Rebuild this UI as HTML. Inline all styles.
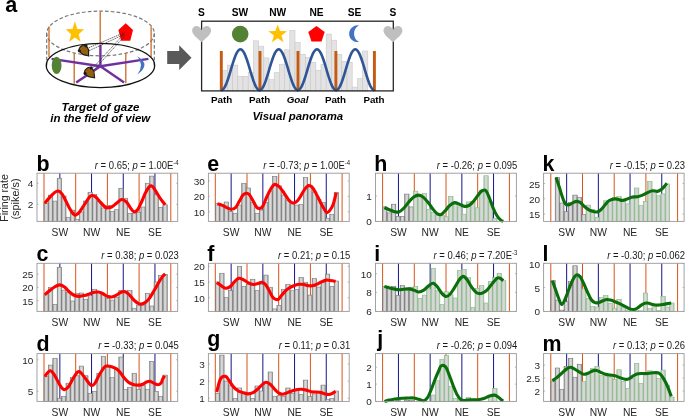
<!DOCTYPE html>
<html><head><meta charset="utf-8"><style>
html,body{margin:0;padding:0;background:#fff;}
svg{display:block;will-change:transform;}
text{font-family:"Liberation Sans", sans-serif;}
</style></head><body>
<svg width="685" height="416" viewBox="0 0 685 416">
<defs>
<linearGradient id="bg" x1="0" y1="0" x2="1" y2="0">
<stop offset="0" stop-color="#8c8c8c"/><stop offset="0.28" stop-color="#cdcdcd"/><stop offset="0.5" stop-color="#dcdcdc"/><stop offset="0.72" stop-color="#cdcdcd"/><stop offset="1" stop-color="#8c8c8c"/>
</linearGradient>
<linearGradient id="gg" x1="0" y1="0" x2="1" y2="0">
<stop offset="0" stop-color="#9cc49c"/><stop offset="0.28" stop-color="#d2d4d2"/><stop offset="0.5" stop-color="#dadada"/><stop offset="0.72" stop-color="#d2d4d2"/><stop offset="1" stop-color="#9cc49c"/>
</linearGradient>
</defs>
<rect width="685" height="416" fill="#fff"/>
<text x="5.2" y="11.6" font-size="21.6" font-weight="bold">a</text>
<ellipse cx="100.5" cy="33.45" rx="53.8" ry="22.35" fill="none" stroke="#777" stroke-width="1.2" stroke-dasharray="3.6 2.2"/>
<line x1="46.7" y1="33.45" x2="46.7" y2="66" stroke="#777" stroke-width="1.2" stroke-dasharray="3.6 2.2"/>
<line x1="154.3" y1="33.45" x2="154.3" y2="66" stroke="#777" stroke-width="1.2" stroke-dasharray="3.6 2.2"/>
<line x1="49" y1="26.6" x2="49" y2="57" stroke="#c8641e" stroke-width="1.25"/>
<line x1="100.2" y1="11.5" x2="100.2" y2="42.5" stroke="#c8641e" stroke-width="1.25"/>
<line x1="151.1" y1="26.6" x2="151.1" y2="57" stroke="#c8641e" stroke-width="1.25"/>
<line x1="74.2" y1="53.1" x2="74.2" y2="83.8" stroke="#c8641e" stroke-width="1.25"/>
<line x1="125.8" y1="53.1" x2="125.8" y2="83.3" stroke="#c8641e" stroke-width="1.25"/>
<polygon points="74.9,23.1 77.25,29.46 84.03,29.73 78.7,33.94 80.54,40.47 74.9,36.7 69.26,40.47 71.1,33.94 65.77,29.73 72.55,29.46" fill="#ffc000" transform="translate(74.9 32.7) scale(1 1.18) translate(-74.9 -32.7)"/>
<polygon points="125.7,25.2 133.02,30.52 130.23,39.13 121.17,39.13 118.38,30.52" fill="#ff0000" transform="translate(125.7 32.9) scale(1 1.25) translate(-125.7 -32.9)"/>
<ellipse cx="100.45" cy="65.45" rx="54.2" ry="22.1" fill="none" stroke="#111" stroke-width="1.3"/>
<line x1="100.4" y1="66.2" x2="51.6" y2="58.9" stroke="#7030a0" stroke-width="2.4" stroke-linecap="butt"/>
<line x1="100.4" y1="66.2" x2="76.2" y2="82.4" stroke="#7030a0" stroke-width="2.4" stroke-linecap="butt"/>
<line x1="100.4" y1="66.2" x2="100.4" y2="44.6" stroke="#7030a0" stroke-width="2.4" stroke-linecap="butt"/>
<line x1="100.4" y1="66.2" x2="124.1" y2="82.4" stroke="#7030a0" stroke-width="2.4" stroke-linecap="butt"/>
<line x1="100.4" y1="66.2" x2="148.4" y2="58.9" stroke="#7030a0" stroke-width="2.4" stroke-linecap="butt"/>
<ellipse cx="56.6" cy="65.4" rx="4.9" ry="8.7" fill="#548235"/>
<path d="M137.3 56.3 Q151.5 64.5 137.4 74.4 Q144.6 64.5 137.3 56.3Z" fill="#4472c4"/>
<line x1="87" y1="48.5" x2="124.5" y2="32.5" stroke="#222" stroke-width="0.7" stroke-dasharray="1.4 0.7"/>
<line x1="88.5" y1="51" x2="125" y2="34" stroke="#222" stroke-width="0.7" stroke-dasharray="1.4 0.7"/>
<line x1="91" y1="70" x2="123.5" y2="34.5" stroke="#222" stroke-width="0.7" stroke-dasharray="1.4 0.7"/>
<line x1="93" y1="71" x2="125" y2="35.5" stroke="#222" stroke-width="0.7" stroke-dasharray="1.4 0.7"/>
<g transform="translate(84.6 50.8) rotate(52) scale(1.22)"><path d="M-4.6 -1.2 C-4.2 -4.2 1.2 -4.2 3.2 -1.6 L5.4 0 L3.2 1.6 C1.2 4.2 -4.2 4.2 -4.6 1.2 Z" fill="#94600e" stroke="#1a1a1a" stroke-width="0.9"/><circle cx="-2.6" cy="-3.4" r="1.3" fill="#1a1a1a"/><circle cx="-2.6" cy="3.4" r="1.3" fill="#1a1a1a"/></g>
<g transform="translate(90.2 73) rotate(48) scale(1.22)"><path d="M-4.6 -1.2 C-4.2 -4.2 1.2 -4.2 3.2 -1.6 L5.4 0 L3.2 1.6 C1.2 4.2 -4.2 4.2 -4.6 1.2 Z" fill="#94600e" stroke="#1a1a1a" stroke-width="0.9"/><circle cx="-2.6" cy="-3.4" r="1.3" fill="#1a1a1a"/><circle cx="-2.6" cy="3.4" r="1.3" fill="#1a1a1a"/></g>
<text x="100.5" y="110.6" text-anchor="middle" font-size="10.8" font-weight="bold" font-style="italic" textLength="78" lengthAdjust="spacingAndGlyphs">Target of gaze</text>
<text x="100.3" y="122.4" text-anchor="middle" font-size="10.8" font-weight="bold" font-style="italic" textLength="100" lengthAdjust="spacingAndGlyphs">in the field of view</text>
<polygon points="167.2,51 179.2,51 179.2,45.3 191.5,57.7 179.2,70 179.2,64 167.2,64" fill="#595959"/>
<rect x="222.2" y="70.5" width="5.2" height="20.4" fill="#e3e3e3" stroke="#c9c9c9" stroke-width="0.6"/>
<rect x="227.4" y="65.1" width="5.2" height="25.8" fill="#e3e3e3" stroke="#c9c9c9" stroke-width="0.6"/>
<rect x="232.6" y="65.1" width="5.2" height="25.8" fill="#e3e3e3" stroke="#c9c9c9" stroke-width="0.6"/>
<rect x="237.8" y="76.3" width="5.2" height="14.6" fill="#e3e3e3" stroke="#c9c9c9" stroke-width="0.6"/>
<rect x="243" y="76.3" width="5.2" height="14.6" fill="#e3e3e3" stroke="#c9c9c9" stroke-width="0.6"/>
<rect x="248.2" y="72.3" width="5.2" height="18.6" fill="#e3e3e3" stroke="#c9c9c9" stroke-width="0.6"/>
<rect x="253.4" y="40.8" width="5.2" height="50.1" fill="#e3e3e3" stroke="#c9c9c9" stroke-width="0.6"/>
<rect x="258.6" y="46.2" width="5.2" height="44.7" fill="#e3e3e3" stroke="#c9c9c9" stroke-width="0.6"/>
<rect x="263.8" y="57.9" width="5.2" height="33" fill="#e3e3e3" stroke="#c9c9c9" stroke-width="0.6"/>
<rect x="269" y="79.6" width="5.2" height="11.3" fill="#e3e3e3" stroke="#c9c9c9" stroke-width="0.6"/>
<rect x="274.2" y="72.7" width="5.2" height="18.2" fill="#e3e3e3" stroke="#c9c9c9" stroke-width="0.6"/>
<rect x="279.4" y="64.2" width="5.2" height="26.7" fill="#e3e3e3" stroke="#c9c9c9" stroke-width="0.6"/>
<rect x="284.6" y="49.8" width="5.2" height="41.1" fill="#e3e3e3" stroke="#c9c9c9" stroke-width="0.6"/>
<rect x="289.8" y="30.3" width="5.2" height="60.6" fill="#e3e3e3" stroke="#c9c9c9" stroke-width="0.6"/>
<rect x="295" y="42.6" width="5.2" height="48.3" fill="#e3e3e3" stroke="#c9c9c9" stroke-width="0.6"/>
<rect x="300.2" y="54.3" width="5.2" height="36.6" fill="#e3e3e3" stroke="#c9c9c9" stroke-width="0.6"/>
<rect x="305.4" y="57.4" width="5.2" height="33.5" fill="#e3e3e3" stroke="#c9c9c9" stroke-width="0.6"/>
<rect x="310.6" y="62.4" width="5.2" height="28.5" fill="#e3e3e3" stroke="#c9c9c9" stroke-width="0.6"/>
<rect x="315.8" y="70.2" width="5.2" height="20.7" fill="#e3e3e3" stroke="#c9c9c9" stroke-width="0.6"/>
<rect x="321" y="64.2" width="5.2" height="26.7" fill="#e3e3e3" stroke="#c9c9c9" stroke-width="0.6"/>
<rect x="326.2" y="34.1" width="5.2" height="56.8" fill="#e3e3e3" stroke="#c9c9c9" stroke-width="0.6"/>
<rect x="331.4" y="40.2" width="5.2" height="50.7" fill="#e3e3e3" stroke="#c9c9c9" stroke-width="0.6"/>
<rect x="336.6" y="54.3" width="5.2" height="36.6" fill="#e3e3e3" stroke="#c9c9c9" stroke-width="0.6"/>
<rect x="341.8" y="61.5" width="5.2" height="29.4" fill="#e3e3e3" stroke="#c9c9c9" stroke-width="0.6"/>
<rect x="347" y="62.4" width="5.2" height="28.5" fill="#e3e3e3" stroke="#c9c9c9" stroke-width="0.6"/>
<rect x="352.2" y="87.1" width="5.2" height="3.8" fill="#e3e3e3" stroke="#c9c9c9" stroke-width="0.6"/>
<rect x="357.4" y="78.7" width="5.2" height="12.2" fill="#e3e3e3" stroke="#c9c9c9" stroke-width="0.6"/>
<rect x="362.6" y="51" width="5.2" height="39.9" fill="#e3e3e3" stroke="#c9c9c9" stroke-width="0.6"/>
<rect x="219.85" y="51" width="2.9" height="39.9" fill="#c55a11"/>
<rect x="258.55" y="51" width="2.9" height="39.9" fill="#c55a11"/>
<rect x="296.55" y="51" width="2.9" height="39.9" fill="#c55a11"/>
<rect x="334.45" y="51" width="2.9" height="39.9" fill="#c55a11"/>
<rect x="372.95" y="51" width="2.9" height="39.9" fill="#c55a11"/>
<polyline points="221.3,90.2 222.07,90.04 222.83,89.56 223.6,88.76 224.36,87.67 225.13,86.29 225.89,84.66 226.66,82.79 227.42,80.71 228.19,78.46 228.96,76.07 229.72,73.58 230.49,71.03 231.25,68.47 232.02,65.92 232.78,63.43 233.55,61.04 234.31,58.79 235.08,56.71 235.84,54.84 236.61,53.21 237.38,51.83 238.14,50.74 238.91,49.94 239.67,49.46 240.44,49.3 241.2,49.46 241.97,49.94 242.73,50.74 243.5,51.83 244.27,53.21 245.03,54.84 245.8,56.71 246.56,58.79 247.33,61.04 248.09,63.43 248.86,65.92 249.62,68.47 250.39,71.03 251.15,73.58 251.92,76.07 252.69,78.46 253.45,80.71 254.22,82.79 254.98,84.66 255.75,86.29 256.51,87.67 257.28,88.76 258.04,89.56 258.81,90.04 259.57,90.2 260.34,90.04 261.11,89.56 261.87,88.76 262.64,87.67 263.4,86.29 264.17,84.66 264.93,82.79 265.7,80.71 266.46,78.46 267.23,76.07 268,73.58 268.76,71.03 269.53,68.47 270.29,65.92 271.06,63.43 271.82,61.04 272.59,58.79 273.35,56.71 274.12,54.84 274.88,53.21 275.65,51.83 276.42,50.74 277.18,49.94 277.95,49.46 278.71,49.3 279.48,49.46 280.24,49.94 281.01,50.74 281.77,51.83 282.54,53.21 283.31,54.84 284.07,56.71 284.84,58.79 285.6,61.04 286.37,63.43 287.13,65.92 287.9,68.47 288.66,71.03 289.43,73.58 290.19,76.07 290.96,78.46 291.73,80.71 292.49,82.79 293.26,84.66 294.02,86.29 294.79,87.67 295.55,88.76 296.32,89.56 297.08,90.04 297.85,90.2 298.62,90.04 299.38,89.56 300.15,88.76 300.91,87.67 301.68,86.29 302.44,84.66 303.21,82.79 303.97,80.71 304.74,78.46 305.5,76.07 306.27,73.58 307.04,71.03 307.8,68.47 308.57,65.92 309.33,63.43 310.1,61.04 310.86,58.79 311.63,56.71 312.39,54.84 313.16,53.21 313.93,51.83 314.69,50.74 315.46,49.94 316.22,49.46 316.99,49.3 317.75,49.46 318.52,49.94 319.28,50.74 320.05,51.83 320.81,53.21 321.58,54.84 322.35,56.71 323.11,58.79 323.88,61.04 324.64,63.43 325.41,65.92 326.17,68.47 326.94,71.03 327.7,73.58 328.47,76.07 329.24,78.46 330,80.71 330.77,82.79 331.53,84.66 332.3,86.29 333.06,87.67 333.83,88.76 334.59,89.56 335.36,90.04 336.12,90.2 336.89,90.04 337.66,89.56 338.42,88.76 339.19,87.67 339.95,86.29 340.72,84.66 341.48,82.79 342.25,80.71 343.01,78.46 343.78,76.07 344.55,73.58 345.31,71.03 346.08,68.47 346.84,65.92 347.61,63.43 348.37,61.04 349.14,58.79 349.9,56.71 350.67,54.84 351.43,53.21 352.2,51.83 352.97,50.74 353.73,49.94 354.5,49.46 355.26,49.3 356.03,49.46 356.79,49.94 357.56,50.74 358.32,51.83 359.09,53.21 359.86,54.84 360.62,56.71 361.39,58.79 362.15,61.04 362.92,63.43 363.68,65.92 364.45,68.47 365.21,71.03 365.98,73.58 366.75,76.07 367.51,78.46 368.28,80.71 369.04,82.79 369.81,84.66 370.57,86.29 371.34,87.67 372.1,88.76 372.87,89.56 373.63,90.04 374.4,90.2" fill="none" stroke="#2f5597" stroke-width="2.6"/>
<rect x="201.6" y="21.2" width="191.7" height="69.7" fill="none" stroke="#262626" stroke-width="1.3"/>
<path d="M201.6 29.9 C200.1 26.6 198 25.9 196.6 25.9 C193.8 25.9 192.1 28 192.1 30.6 C192.1 34.8 197.4 38.2 201.6 42.3 C205.8 38.2 211.1 34.8 211.1 30.6 C211.1 28 209.4 25.9 206.6 25.9 C205.2 25.9 203.1 26.6 201.6 29.9 Z" fill="#bfbfbf"/>
<path d="M392.95 29.9 C391.45 26.6 389.35 25.9 387.95 25.9 C385.15 25.9 383.45 28 383.45 30.6 C383.45 34.8 388.75 38.2 392.95 42.3 C397.15 38.2 402.45 34.8 402.45 30.6 C402.45 28 400.75 25.9 397.95 25.9 C396.55 25.9 394.45 26.6 392.95 29.9 Z" fill="#bfbfbf"/>
<circle cx="240.2" cy="34.1" r="8.3" fill="#548235"/>
<polygon points="277.7,24.5 280.05,31.06 287.02,31.27 281.5,35.54 283.46,42.23 277.7,38.3 271.94,42.23 273.9,35.54 268.38,31.27 275.35,31.06" fill="#ffc000"/>
<polygon points="316.5,26 324.68,31.94 321.55,41.56 311.45,41.56 308.32,31.94" fill="#ff0000"/>
<path d="M358.9 25.5 A8.35 8.35 0 1 0 359.2 41.9 A9.22 9.22 0 0 1 358.9 25.5Z" fill="#4472c4"/>
<text x="201.5" y="16.3" text-anchor="middle" font-size="10.2" font-weight="bold">S</text>
<text x="240" y="16.3" text-anchor="middle" font-size="10.2" font-weight="bold">SW</text>
<text x="277.7" y="16.3" text-anchor="middle" font-size="10.2" font-weight="bold">NW</text>
<text x="316.5" y="16.3" text-anchor="middle" font-size="10.2" font-weight="bold">NE</text>
<text x="354.5" y="16.3" text-anchor="middle" font-size="10.2" font-weight="bold">SE</text>
<text x="393" y="16.3" text-anchor="middle" font-size="10.2" font-weight="bold">S</text>
<text x="221.6" y="103.0" text-anchor="middle" font-size="9.8" font-weight="bold">Path</text>
<text x="259.6" y="103.0" text-anchor="middle" font-size="9.8" font-weight="bold">Path</text>
<text x="297.6" y="103.0" text-anchor="middle" font-size="9.8" font-weight="bold" font-style="italic">Goal</text>
<text x="335.5" y="103.0" text-anchor="middle" font-size="9.8" font-weight="bold">Path</text>
<text x="374" y="103.0" text-anchor="middle" font-size="9.8" font-weight="bold">Path</text>
<text x="297.8" y="120.0" text-anchor="middle" font-size="11.4" font-weight="bold" font-style="italic">Visual panorama</text>
<line x1="44" y1="173.2" x2="44" y2="221.4" stroke="#d95319" stroke-width="1.0"/>
<line x1="75.7" y1="173.2" x2="75.7" y2="221.4" stroke="#d95319" stroke-width="1.0"/>
<line x1="107.4" y1="173.2" x2="107.4" y2="221.4" stroke="#d95319" stroke-width="1.0"/>
<line x1="139.1" y1="173.2" x2="139.1" y2="221.4" stroke="#d95319" stroke-width="1.0"/>
<line x1="170.8" y1="173.2" x2="170.8" y2="221.4" stroke="#d95319" stroke-width="1.0"/>
<line x1="59.85" y1="173.2" x2="59.85" y2="221.4" stroke="#14148a" stroke-width="1.0"/>
<line x1="91.55" y1="173.2" x2="91.55" y2="221.4" stroke="#14148a" stroke-width="1.0"/>
<line x1="123.25" y1="173.2" x2="123.25" y2="221.4" stroke="#14148a" stroke-width="1.0"/>
<line x1="154.95" y1="173.2" x2="154.95" y2="221.4" stroke="#14148a" stroke-width="1.0"/>
<rect x="44" y="203.5" width="4.4" height="17.9" fill="url(#bg)" stroke="#777777" stroke-width="0.6"/>
<rect x="48.4" y="195.1" width="4.4" height="26.3" fill="url(#bg)" stroke="#777777" stroke-width="0.6"/>
<rect x="52.81" y="201.1" width="4.4" height="20.3" fill="url(#bg)" stroke="#777777" stroke-width="0.6"/>
<rect x="57.21" y="178.25" width="4.4" height="43.15" fill="url(#bg)" stroke="#777777" stroke-width="0.6"/>
<rect x="61.61" y="196" width="4.4" height="25.4" fill="url(#bg)" stroke="#777777" stroke-width="0.6"/>
<rect x="66.01" y="217.25" width="4.4" height="4.15" fill="url(#bg)" stroke="#777777" stroke-width="0.6"/>
<rect x="70.42" y="210.1" width="4.4" height="11.3" fill="url(#bg)" stroke="#777777" stroke-width="0.6"/>
<rect x="74.82" y="219.25" width="4.4" height="2.15" fill="url(#bg)" stroke="#777777" stroke-width="0.6"/>
<rect x="79.22" y="212" width="4.4" height="9.4" fill="url(#bg)" stroke="#777777" stroke-width="0.6"/>
<rect x="83.62" y="201" width="4.4" height="20.4" fill="url(#bg)" stroke="#777777" stroke-width="0.6"/>
<rect x="88.03" y="192.25" width="4.4" height="29.15" fill="url(#bg)" stroke="#777777" stroke-width="0.6"/>
<rect x="92.43" y="194.5" width="4.4" height="26.9" fill="url(#bg)" stroke="#777777" stroke-width="0.6"/>
<rect x="96.83" y="201.4" width="4.4" height="20" fill="url(#bg)" stroke="#777777" stroke-width="0.6"/>
<rect x="101.24" y="208" width="4.4" height="13.4" fill="url(#bg)" stroke="#777777" stroke-width="0.6"/>
<rect x="105.64" y="205.5" width="4.4" height="15.9" fill="url(#bg)" stroke="#777777" stroke-width="0.6"/>
<rect x="110.04" y="211.4" width="4.4" height="10" fill="url(#bg)" stroke="#777777" stroke-width="0.6"/>
<rect x="114.44" y="209.75" width="4.4" height="11.65" fill="url(#bg)" stroke="#777777" stroke-width="0.6"/>
<rect x="118.85" y="188.25" width="4.4" height="33.15" fill="url(#bg)" stroke="#777777" stroke-width="0.6"/>
<rect x="123.25" y="198.25" width="4.4" height="23.15" fill="url(#bg)" stroke="#777777" stroke-width="0.6"/>
<rect x="127.65" y="213.25" width="4.4" height="8.15" fill="url(#bg)" stroke="#777777" stroke-width="0.6"/>
<rect x="132.06" y="213.25" width="4.4" height="8.15" fill="url(#bg)" stroke="#777777" stroke-width="0.6"/>
<rect x="136.46" y="212.25" width="4.4" height="9.15" fill="url(#bg)" stroke="#777777" stroke-width="0.6"/>
<rect x="140.86" y="207" width="4.4" height="14.4" fill="url(#bg)" stroke="#777777" stroke-width="0.6"/>
<rect x="145.26" y="183.25" width="4.4" height="38.15" fill="url(#bg)" stroke="#777777" stroke-width="0.6"/>
<rect x="149.67" y="176.1" width="4.4" height="45.3" fill="url(#bg)" stroke="#777777" stroke-width="0.6"/>
<rect x="154.07" y="194.5" width="4.4" height="26.9" fill="url(#bg)" stroke="#777777" stroke-width="0.6"/>
<rect x="158.47" y="207.4" width="4.4" height="14" fill="url(#bg)" stroke="#777777" stroke-width="0.6"/>
<rect x="162.88" y="204.75" width="4.4" height="16.65" fill="url(#bg)" stroke="#777777" stroke-width="0.6"/>
<path d="M44.75 203.25C45.54 202.31 47.88 199.4 49.5 197.62C51.12 195.85 53.04 193.73 54.5 192.62C55.96 191.52 57 190.79 58.25 191C59.5 191.21 60.75 192.25 62 193.88C63.25 195.5 64.5 198.35 65.75 200.75C67 203.15 68.25 206.06 69.5 208.25C70.75 210.44 72.21 212.73 73.25 213.88C74.29 215.02 74.71 215.44 75.75 215.12C76.79 214.81 78.04 213.77 79.5 212C80.96 210.23 82.83 207 84.5 204.5C86.17 202 88.25 198.5 89.5 197C90.75 195.5 90.96 195.5 92 195.5C93.04 195.5 94.29 195.81 95.75 197C97.21 198.19 99.08 200.85 100.75 202.62C102.42 204.4 104.58 206.79 105.75 207.62C106.92 208.46 106.79 207.73 107.75 207.62C108.71 207.52 110.04 207.73 111.5 207C112.96 206.27 114.83 204.5 116.5 203.25C118.17 202 119.83 199.71 121.5 199.5C123.17 199.29 125.04 200.65 126.5 202C127.96 203.35 129 206 130.25 207.62C131.5 209.25 132.75 211.44 134 211.75C135.25 212.06 136.5 211.12 137.75 209.5C139 207.88 140.25 204.71 141.5 202C142.75 199.29 144 195.75 145.25 193.25C146.5 190.75 148 188.25 149 187C150 185.75 150.42 185.54 151.25 185.75C152.08 185.96 152.92 186.79 154 188.25C155.08 189.71 156.5 192.52 157.75 194.5C159 196.48 160.25 198.42 161.5 200.12C162.75 201.83 164.62 203.98 165.25 204.75" fill="none" stroke="#ff0000" stroke-width="3.1" stroke-linejoin="round" stroke-linecap="butt"/>
<rect x="37" y="173.2" width="140.7" height="48.2" fill="none" stroke="#999999" stroke-width="0.9"/>
<line x1="37" y1="183.3" x2="38.5" y2="183.3" stroke="#999999" stroke-width="0.7"/>
<line x1="177.7" y1="183.3" x2="176.2" y2="183.3" stroke="#999999" stroke-width="0.7"/>
<text transform="translate(33.4 187.35) scale(1.03 1)" text-anchor="end" font-size="9.7" fill="#262626">4</text>
<line x1="37" y1="204.3" x2="38.5" y2="204.3" stroke="#999999" stroke-width="0.7"/>
<line x1="177.7" y1="204.3" x2="176.2" y2="204.3" stroke="#999999" stroke-width="0.7"/>
<text transform="translate(33.4 208.35) scale(1.03 1)" text-anchor="end" font-size="9.7" fill="#262626">2</text>
<text x="59.85" y="235.6" text-anchor="middle" font-size="10.3" fill="#262626">SW</text>
<text x="91.55" y="235.6" text-anchor="middle" font-size="10.3" fill="#262626">NW</text>
<text x="123.25" y="235.6" text-anchor="middle" font-size="10.3" fill="#262626">NE</text>
<text x="154.95" y="235.6" text-anchor="middle" font-size="10.3" fill="#262626">SE</text>
<text transform="translate(178.6 168.8) scale(0.912 1)" text-anchor="end" font-size="10.4" fill="#1a1a1a"><tspan font-style="italic">r</tspan> = 0.65; <tspan font-style="italic">p</tspan> = 1.00E<tspan font-size="6.6" dy="-3.8">-4</tspan></text>
<text x="36.4" y="170.7" font-size="21.4" font-weight="bold" fill="#000">b</text>
<line x1="44" y1="263.3" x2="44" y2="311.4" stroke="#d95319" stroke-width="1.0"/>
<line x1="75.7" y1="263.3" x2="75.7" y2="311.4" stroke="#d95319" stroke-width="1.0"/>
<line x1="107.4" y1="263.3" x2="107.4" y2="311.4" stroke="#d95319" stroke-width="1.0"/>
<line x1="139.1" y1="263.3" x2="139.1" y2="311.4" stroke="#d95319" stroke-width="1.0"/>
<line x1="170.8" y1="263.3" x2="170.8" y2="311.4" stroke="#d95319" stroke-width="1.0"/>
<line x1="59.85" y1="263.3" x2="59.85" y2="311.4" stroke="#14148a" stroke-width="1.0"/>
<line x1="91.55" y1="263.3" x2="91.55" y2="311.4" stroke="#14148a" stroke-width="1.0"/>
<line x1="123.25" y1="263.3" x2="123.25" y2="311.4" stroke="#14148a" stroke-width="1.0"/>
<line x1="154.95" y1="263.3" x2="154.95" y2="311.4" stroke="#14148a" stroke-width="1.0"/>
<rect x="44" y="294.75" width="4.4" height="16.65" fill="url(#bg)" stroke="#777777" stroke-width="0.6"/>
<rect x="48.4" y="287.25" width="4.4" height="24.15" fill="url(#bg)" stroke="#777777" stroke-width="0.6"/>
<rect x="52.81" y="304.5" width="4.4" height="6.9" fill="url(#bg)" stroke="#777777" stroke-width="0.6"/>
<rect x="57.21" y="267.25" width="4.4" height="44.15" fill="url(#bg)" stroke="#777777" stroke-width="0.6"/>
<rect x="61.61" y="290.1" width="4.4" height="21.3" fill="url(#bg)" stroke="#777777" stroke-width="0.6"/>
<rect x="66.01" y="292.6" width="4.4" height="18.8" fill="url(#bg)" stroke="#777777" stroke-width="0.6"/>
<rect x="70.42" y="301" width="4.4" height="10.4" fill="url(#bg)" stroke="#777777" stroke-width="0.6"/>
<rect x="74.82" y="293.5" width="4.4" height="17.9" fill="url(#bg)" stroke="#777777" stroke-width="0.6"/>
<rect x="79.22" y="293" width="4.4" height="18.4" fill="url(#bg)" stroke="#777777" stroke-width="0.6"/>
<rect x="83.62" y="299.25" width="4.4" height="12.15" fill="url(#bg)" stroke="#777777" stroke-width="0.6"/>
<rect x="88.03" y="295.75" width="4.4" height="15.65" fill="url(#bg)" stroke="#777777" stroke-width="0.6"/>
<rect x="92.43" y="289.25" width="4.4" height="22.15" fill="url(#bg)" stroke="#777777" stroke-width="0.6"/>
<rect x="96.83" y="291.75" width="4.4" height="19.65" fill="url(#bg)" stroke="#777777" stroke-width="0.6"/>
<rect x="101.24" y="294.75" width="4.4" height="16.65" fill="url(#bg)" stroke="#777777" stroke-width="0.6"/>
<rect x="105.64" y="298.25" width="4.4" height="13.15" fill="url(#bg)" stroke="#777777" stroke-width="0.6"/>
<rect x="110.04" y="300.1" width="4.4" height="11.3" fill="url(#bg)" stroke="#777777" stroke-width="0.6"/>
<rect x="114.44" y="297.25" width="4.4" height="14.15" fill="url(#bg)" stroke="#777777" stroke-width="0.6"/>
<rect x="118.85" y="290.5" width="4.4" height="20.9" fill="url(#bg)" stroke="#777777" stroke-width="0.6"/>
<rect x="123.25" y="291.4" width="4.4" height="20" fill="url(#bg)" stroke="#777777" stroke-width="0.6"/>
<rect x="127.65" y="290.5" width="4.4" height="20.9" fill="url(#bg)" stroke="#777777" stroke-width="0.6"/>
<rect x="132.06" y="308.25" width="4.4" height="3.15" fill="url(#bg)" stroke="#777777" stroke-width="0.6"/>
<rect x="136.46" y="305.1" width="4.4" height="6.3" fill="url(#bg)" stroke="#777777" stroke-width="0.6"/>
<rect x="140.86" y="305.1" width="4.4" height="6.3" fill="url(#bg)" stroke="#777777" stroke-width="0.6"/>
<rect x="145.26" y="293.25" width="4.4" height="18.15" fill="url(#bg)" stroke="#777777" stroke-width="0.6"/>
<rect x="149.67" y="306" width="4.4" height="5.4" fill="url(#bg)" stroke="#777777" stroke-width="0.6"/>
<rect x="154.07" y="282" width="4.4" height="29.4" fill="url(#bg)" stroke="#777777" stroke-width="0.6"/>
<rect x="158.47" y="275.5" width="4.4" height="35.9" fill="url(#bg)" stroke="#777777" stroke-width="0.6"/>
<rect x="162.88" y="274.5" width="4.4" height="36.9" fill="url(#bg)" stroke="#777777" stroke-width="0.6"/>
<path d="M44.75 294.75C45.54 294.08 47.88 292.04 49.5 290.75C51.12 289.46 52.83 287.98 54.5 287C56.17 286.02 57.83 284.88 59.5 284.88C61.17 284.88 62.83 285.81 64.5 287C66.17 288.19 67.83 290.58 69.5 292C71.17 293.42 72.83 294.77 74.5 295.5C76.17 296.23 77.83 296.38 79.5 296.38C81.17 296.38 82.83 295.92 84.5 295.5C86.17 295.08 87.83 294.42 89.5 293.88C91.17 293.33 93.04 292.56 94.5 292.25C95.96 291.94 97 291.83 98.25 292C99.5 292.17 100.75 292.67 102 293.25C103.25 293.83 104.79 294.98 105.75 295.5C106.71 296.02 106.79 296.12 107.75 296.38C108.71 296.62 110.04 297.21 111.5 297C112.96 296.79 114.83 295.96 116.5 295.12C118.17 294.29 120.04 292.56 121.5 292C122.96 291.44 124 291.33 125.25 291.75C126.5 292.17 127.54 293.1 129 294.5C130.46 295.9 132.33 298.56 134 300.12C135.67 301.69 137.33 303.35 139 303.88C140.67 304.4 142.33 304.08 144 303.25C145.67 302.42 147.33 300.96 149 298.88C150.67 296.79 152.33 293.56 154 290.75C155.67 287.94 157.54 284.4 159 282C160.46 279.6 161.71 277.73 162.75 276.38C163.79 275.02 164.83 274.29 165.25 273.88" fill="none" stroke="#ff0000" stroke-width="3.1" stroke-linejoin="round" stroke-linecap="butt"/>
<rect x="37" y="263.3" width="140.7" height="48.1" fill="none" stroke="#999999" stroke-width="0.9"/>
<line x1="37" y1="274.1" x2="38.5" y2="274.1" stroke="#999999" stroke-width="0.7"/>
<line x1="177.7" y1="274.1" x2="176.2" y2="274.1" stroke="#999999" stroke-width="0.7"/>
<text transform="translate(33.4 278.15) scale(1.03 1)" text-anchor="end" font-size="9.7" fill="#262626">25</text>
<line x1="37" y1="287.4" x2="38.5" y2="287.4" stroke="#999999" stroke-width="0.7"/>
<line x1="177.7" y1="287.4" x2="176.2" y2="287.4" stroke="#999999" stroke-width="0.7"/>
<text transform="translate(33.4 291.45) scale(1.03 1)" text-anchor="end" font-size="9.7" fill="#262626">20</text>
<line x1="37" y1="300.6" x2="38.5" y2="300.6" stroke="#999999" stroke-width="0.7"/>
<line x1="177.7" y1="300.6" x2="176.2" y2="300.6" stroke="#999999" stroke-width="0.7"/>
<text transform="translate(33.4 304.65) scale(1.03 1)" text-anchor="end" font-size="9.7" fill="#262626">15</text>
<text x="59.85" y="325.6" text-anchor="middle" font-size="10.3" fill="#262626">SW</text>
<text x="91.55" y="325.6" text-anchor="middle" font-size="10.3" fill="#262626">NW</text>
<text x="123.25" y="325.6" text-anchor="middle" font-size="10.3" fill="#262626">NE</text>
<text x="154.95" y="325.6" text-anchor="middle" font-size="10.3" fill="#262626">SE</text>
<text transform="translate(178.7 258.9) scale(0.912 1)" text-anchor="end" font-size="10.4" fill="#1a1a1a"><tspan font-style="italic">r</tspan> = 0.38; <tspan font-style="italic">p</tspan> = 0.023</text>
<text x="36.4" y="260.8" font-size="21.4" font-weight="bold" fill="#000">c</text>
<line x1="44" y1="353.6" x2="44" y2="401.4" stroke="#d95319" stroke-width="1.0"/>
<line x1="75.7" y1="353.6" x2="75.7" y2="401.4" stroke="#d95319" stroke-width="1.0"/>
<line x1="107.4" y1="353.6" x2="107.4" y2="401.4" stroke="#d95319" stroke-width="1.0"/>
<line x1="139.1" y1="353.6" x2="139.1" y2="401.4" stroke="#d95319" stroke-width="1.0"/>
<line x1="170.8" y1="353.6" x2="170.8" y2="401.4" stroke="#d95319" stroke-width="1.0"/>
<line x1="59.85" y1="353.6" x2="59.85" y2="401.4" stroke="#14148a" stroke-width="1.0"/>
<line x1="91.55" y1="353.6" x2="91.55" y2="401.4" stroke="#14148a" stroke-width="1.0"/>
<line x1="123.25" y1="353.6" x2="123.25" y2="401.4" stroke="#14148a" stroke-width="1.0"/>
<line x1="154.95" y1="353.6" x2="154.95" y2="401.4" stroke="#14148a" stroke-width="1.0"/>
<rect x="44" y="376.4" width="4.4" height="25" fill="url(#bg)" stroke="#777777" stroke-width="0.6"/>
<rect x="48.4" y="365.1" width="4.4" height="36.3" fill="url(#bg)" stroke="#777777" stroke-width="0.6"/>
<rect x="52.81" y="358.25" width="4.4" height="43.15" fill="url(#bg)" stroke="#777777" stroke-width="0.6"/>
<rect x="57.21" y="398.25" width="4.4" height="3.15" fill="url(#bg)" stroke="#777777" stroke-width="0.6"/>
<rect x="61.61" y="396.4" width="4.4" height="5" fill="url(#bg)" stroke="#777777" stroke-width="0.6"/>
<rect x="66.01" y="383.25" width="4.4" height="18.15" fill="url(#bg)" stroke="#777777" stroke-width="0.6"/>
<rect x="70.42" y="377.6" width="4.4" height="23.8" fill="url(#bg)" stroke="#777777" stroke-width="0.6"/>
<rect x="74.82" y="375.75" width="4.4" height="25.65" fill="url(#bg)" stroke="#777777" stroke-width="0.6"/>
<rect x="79.22" y="366.1" width="4.4" height="35.3" fill="url(#bg)" stroke="#777777" stroke-width="0.6"/>
<rect x="83.62" y="375.75" width="4.4" height="25.65" fill="url(#bg)" stroke="#777777" stroke-width="0.6"/>
<rect x="88.03" y="393.25" width="4.4" height="8.15" fill="url(#bg)" stroke="#777777" stroke-width="0.6"/>
<rect x="92.43" y="391.4" width="4.4" height="10" fill="url(#bg)" stroke="#777777" stroke-width="0.6"/>
<rect x="96.83" y="373.25" width="4.4" height="28.15" fill="url(#bg)" stroke="#777777" stroke-width="0.6"/>
<rect x="101.24" y="356.4" width="4.4" height="45" fill="url(#bg)" stroke="#777777" stroke-width="0.6"/>
<rect x="105.64" y="367" width="4.4" height="34.4" fill="url(#bg)" stroke="#777777" stroke-width="0.6"/>
<rect x="110.04" y="377.6" width="4.4" height="23.8" fill="url(#bg)" stroke="#777777" stroke-width="0.6"/>
<rect x="114.44" y="369.5" width="4.4" height="31.9" fill="url(#bg)" stroke="#777777" stroke-width="0.6"/>
<rect x="118.85" y="357" width="4.4" height="44.4" fill="url(#bg)" stroke="#777777" stroke-width="0.6"/>
<rect x="123.25" y="389.5" width="4.4" height="11.9" fill="url(#bg)" stroke="#777777" stroke-width="0.6"/>
<rect x="127.65" y="387.6" width="4.4" height="13.8" fill="url(#bg)" stroke="#777777" stroke-width="0.6"/>
<rect x="132.06" y="373.25" width="4.4" height="28.15" fill="url(#bg)" stroke="#777777" stroke-width="0.6"/>
<rect x="136.46" y="389.5" width="4.4" height="11.9" fill="url(#bg)" stroke="#777777" stroke-width="0.6"/>
<rect x="140.86" y="385.1" width="4.4" height="16.3" fill="url(#bg)" stroke="#777777" stroke-width="0.6"/>
<rect x="145.26" y="389.25" width="4.4" height="12.15" fill="url(#bg)" stroke="#777777" stroke-width="0.6"/>
<rect x="149.67" y="361.4" width="4.4" height="40" fill="url(#bg)" stroke="#777777" stroke-width="0.6"/>
<rect x="154.07" y="391.4" width="4.4" height="10" fill="url(#bg)" stroke="#777777" stroke-width="0.6"/>
<rect x="158.47" y="396.4" width="4.4" height="5" fill="url(#bg)" stroke="#777777" stroke-width="0.6"/>
<rect x="162.88" y="375.1" width="4.4" height="26.3" fill="url(#bg)" stroke="#777777" stroke-width="0.6"/>
<path d="M44.75 376.38C45.65 375.44 48.5 370.96 50.12 370.75C51.75 370.54 52.94 372.83 54.5 375.12C56.06 377.42 57.94 382.1 59.5 384.5C61.06 386.9 62.42 389.08 63.88 389.5C65.33 389.92 66.69 388.88 68.25 387C69.81 385.12 71.69 380.75 73.25 378.25C74.81 375.75 76.38 372.94 77.62 372C78.88 371.06 79.4 371.48 80.75 372.62C82.1 373.77 84.08 376.79 85.75 378.88C87.42 380.96 89.29 384.29 90.75 385.12C92.21 385.96 93.04 385.65 94.5 383.88C95.96 382.1 97.83 377.31 99.5 374.5C101.17 371.69 103.12 368.42 104.5 367C105.88 365.58 106.58 366.04 107.75 366C108.92 365.96 110.04 366.27 111.5 366.75C112.96 367.23 115.04 367.9 116.5 368.88C117.96 369.85 119 371.17 120.25 372.62C121.5 374.08 122.54 375.96 124 377.62C125.46 379.29 127.33 381.44 129 382.62C130.67 383.81 132.33 384.33 134 384.75C135.67 385.17 137.54 385.21 139 385.12C140.46 385.04 141.5 384.77 142.75 384.25C144 383.73 145.25 382.48 146.5 382C147.75 381.52 149 381.17 150.25 381.38C151.5 381.58 152.75 382.69 154 383.25C155.25 383.81 156.6 384.75 157.75 384.75C158.9 384.75 160.04 384.23 160.88 383.25C161.71 382.27 162.12 380.12 162.75 378.88C163.38 377.62 164.31 376.27 164.62 375.75" fill="none" stroke="#ff0000" stroke-width="3.1" stroke-linejoin="round" stroke-linecap="butt"/>
<rect x="37" y="353.6" width="140.7" height="47.8" fill="none" stroke="#999999" stroke-width="0.9"/>
<line x1="37" y1="359.75" x2="38.5" y2="359.75" stroke="#999999" stroke-width="0.7"/>
<line x1="177.7" y1="359.75" x2="176.2" y2="359.75" stroke="#999999" stroke-width="0.7"/>
<text transform="translate(33.4 363.8) scale(1.03 1)" text-anchor="end" font-size="9.7" fill="#262626">10</text>
<line x1="37" y1="391.2" x2="38.5" y2="391.2" stroke="#999999" stroke-width="0.7"/>
<line x1="177.7" y1="391.2" x2="176.2" y2="391.2" stroke="#999999" stroke-width="0.7"/>
<text transform="translate(33.4 395.25) scale(1.03 1)" text-anchor="end" font-size="9.7" fill="#262626">5</text>
<text x="59.85" y="415.6" text-anchor="middle" font-size="10.3" fill="#262626">SW</text>
<text x="91.55" y="415.6" text-anchor="middle" font-size="10.3" fill="#262626">NW</text>
<text x="123.25" y="415.6" text-anchor="middle" font-size="10.3" fill="#262626">NE</text>
<text x="154.95" y="415.6" text-anchor="middle" font-size="10.3" fill="#262626">SE</text>
<text transform="translate(178.7 349.2) scale(0.912 1)" text-anchor="end" font-size="10.4" fill="#1a1a1a"><tspan font-style="italic">r</tspan> = -0.33; <tspan font-style="italic">p</tspan> = 0.045</text>
<text x="36.4" y="351.1" font-size="21.4" font-weight="bold" fill="#000">d</text>
<line x1="215.3" y1="173.2" x2="215.3" y2="221.4" stroke="#d95319" stroke-width="1.0"/>
<line x1="247" y1="173.2" x2="247" y2="221.4" stroke="#d95319" stroke-width="1.0"/>
<line x1="278.7" y1="173.2" x2="278.7" y2="221.4" stroke="#d95319" stroke-width="1.0"/>
<line x1="310.4" y1="173.2" x2="310.4" y2="221.4" stroke="#d95319" stroke-width="1.0"/>
<line x1="342.1" y1="173.2" x2="342.1" y2="221.4" stroke="#d95319" stroke-width="1.0"/>
<line x1="231.15" y1="173.2" x2="231.15" y2="221.4" stroke="#14148a" stroke-width="1.0"/>
<line x1="262.85" y1="173.2" x2="262.85" y2="221.4" stroke="#14148a" stroke-width="1.0"/>
<line x1="294.55" y1="173.2" x2="294.55" y2="221.4" stroke="#14148a" stroke-width="1.0"/>
<line x1="326.25" y1="173.2" x2="326.25" y2="221.4" stroke="#14148a" stroke-width="1.0"/>
<rect x="215.3" y="203.25" width="4.4" height="18.15" fill="url(#bg)" stroke="#777777" stroke-width="0.6"/>
<rect x="219.7" y="204.25" width="4.4" height="17.15" fill="url(#bg)" stroke="#777777" stroke-width="0.6"/>
<rect x="224.11" y="202" width="4.4" height="19.4" fill="url(#bg)" stroke="#777777" stroke-width="0.6"/>
<rect x="228.51" y="211.4" width="4.4" height="10" fill="url(#bg)" stroke="#777777" stroke-width="0.6"/>
<rect x="232.91" y="213.25" width="4.4" height="8.15" fill="url(#bg)" stroke="#777777" stroke-width="0.6"/>
<rect x="237.31" y="205.1" width="4.4" height="16.3" fill="url(#bg)" stroke="#777777" stroke-width="0.6"/>
<rect x="241.72" y="183.25" width="4.4" height="38.15" fill="url(#bg)" stroke="#777777" stroke-width="0.6"/>
<rect x="246.12" y="188" width="4.4" height="33.4" fill="url(#bg)" stroke="#777777" stroke-width="0.6"/>
<rect x="250.52" y="202.6" width="4.4" height="18.8" fill="url(#bg)" stroke="#777777" stroke-width="0.6"/>
<rect x="254.93" y="213.25" width="4.4" height="8.15" fill="url(#bg)" stroke="#777777" stroke-width="0.6"/>
<rect x="259.33" y="210.1" width="4.4" height="11.3" fill="url(#bg)" stroke="#777777" stroke-width="0.6"/>
<rect x="263.73" y="202.6" width="4.4" height="18.8" fill="url(#bg)" stroke="#777777" stroke-width="0.6"/>
<rect x="268.13" y="191.4" width="4.4" height="30" fill="url(#bg)" stroke="#777777" stroke-width="0.6"/>
<rect x="272.54" y="176.4" width="4.4" height="45" fill="url(#bg)" stroke="#777777" stroke-width="0.6"/>
<rect x="276.94" y="185.75" width="4.4" height="35.65" fill="url(#bg)" stroke="#777777" stroke-width="0.6"/>
<rect x="281.34" y="195.1" width="4.4" height="26.3" fill="url(#bg)" stroke="#777777" stroke-width="0.6"/>
<rect x="285.74" y="200.1" width="4.4" height="21.3" fill="url(#bg)" stroke="#777777" stroke-width="0.6"/>
<rect x="290.15" y="203.9" width="4.4" height="17.5" fill="url(#bg)" stroke="#777777" stroke-width="0.6"/>
<rect x="294.55" y="205.1" width="4.4" height="16.3" fill="url(#bg)" stroke="#777777" stroke-width="0.6"/>
<rect x="298.95" y="204.5" width="4.4" height="16.9" fill="url(#bg)" stroke="#777777" stroke-width="0.6"/>
<rect x="303.36" y="177.6" width="4.4" height="43.8" fill="url(#bg)" stroke="#777777" stroke-width="0.6"/>
<rect x="307.76" y="185.1" width="4.4" height="36.3" fill="url(#bg)" stroke="#777777" stroke-width="0.6"/>
<rect x="312.16" y="192" width="4.4" height="29.4" fill="url(#bg)" stroke="#777777" stroke-width="0.6"/>
<rect x="316.56" y="199.5" width="4.4" height="21.9" fill="url(#bg)" stroke="#777777" stroke-width="0.6"/>
<rect x="320.97" y="202.4" width="4.4" height="19" fill="url(#bg)" stroke="#777777" stroke-width="0.6"/>
<rect x="325.37" y="218.25" width="4.4" height="3.15" fill="url(#bg)" stroke="#777777" stroke-width="0.6"/>
<rect x="329.77" y="214.5" width="4.4" height="6.9" fill="url(#bg)" stroke="#777777" stroke-width="0.6"/>
<rect x="334.18" y="192.6" width="4.4" height="28.8" fill="url(#bg)" stroke="#777777" stroke-width="0.6"/>
<path d="M217.38 203.88C218.1 204.08 220.19 204.5 221.75 205.12C223.31 205.75 225.19 206.94 226.75 207.62C228.31 208.31 229.67 209.25 231.12 209.25C232.58 209.25 234.15 208.94 235.5 207.62C236.85 206.31 238 203.46 239.25 201.38C240.5 199.29 241.85 196.48 243 195.12C244.15 193.77 245.08 193.35 246.12 193.25C247.17 193.15 248.1 193.25 249.25 194.5C250.4 195.75 251.75 198.6 253 200.75C254.25 202.9 255.5 206.12 256.75 207.38C258 208.62 259.46 208.52 260.5 208.25C261.54 207.98 261.96 207.62 263 205.75C264.04 203.88 265.5 199.71 266.75 197C268 194.29 269.25 191.58 270.5 189.5C271.75 187.42 272.88 185.02 274.25 184.5C275.62 183.98 277.38 185.33 278.75 186.38C280.12 187.42 281.25 189.08 282.5 190.75C283.75 192.42 285 194.6 286.25 196.38C287.5 198.15 288.75 200.27 290 201.38C291.25 202.48 292.5 203.1 293.75 203C295 202.9 296.25 202.06 297.5 200.75C298.75 199.44 300 197.1 301.25 195.12C302.5 193.15 303.75 190.48 305 188.88C306.25 187.27 307.5 185.71 308.75 185.5C310 185.29 311.25 186.23 312.5 187.62C313.75 189.02 315 191.58 316.25 193.88C317.5 196.17 318.75 198.98 320 201.38C321.25 203.77 322.6 206.38 323.75 208.25C324.9 210.12 325.83 212.31 326.88 212.62C327.92 212.94 328.96 211.48 330 210.12C331.04 208.77 332.08 207.42 333.12 204.5C334.17 201.58 335.73 194.6 336.25 192.62" fill="none" stroke="#ff0000" stroke-width="3.1" stroke-linejoin="round" stroke-linecap="butt"/>
<rect x="208.4" y="173.2" width="140.8" height="48.2" fill="none" stroke="#999999" stroke-width="0.9"/>
<line x1="208.4" y1="181" x2="209.9" y2="181" stroke="#999999" stroke-width="0.7"/>
<line x1="349.2" y1="181" x2="347.7" y2="181" stroke="#999999" stroke-width="0.7"/>
<text transform="translate(204.8 185.05) scale(1.03 1)" text-anchor="end" font-size="9.7" fill="#262626">30</text>
<line x1="208.4" y1="196.4" x2="209.9" y2="196.4" stroke="#999999" stroke-width="0.7"/>
<line x1="349.2" y1="196.4" x2="347.7" y2="196.4" stroke="#999999" stroke-width="0.7"/>
<text transform="translate(204.8 200.45) scale(1.03 1)" text-anchor="end" font-size="9.7" fill="#262626">20</text>
<line x1="208.4" y1="211.8" x2="209.9" y2="211.8" stroke="#999999" stroke-width="0.7"/>
<line x1="349.2" y1="211.8" x2="347.7" y2="211.8" stroke="#999999" stroke-width="0.7"/>
<text transform="translate(204.8 215.85) scale(1.03 1)" text-anchor="end" font-size="9.7" fill="#262626">10</text>
<text x="231.15" y="235.6" text-anchor="middle" font-size="10.3" fill="#262626">SW</text>
<text x="262.85" y="235.6" text-anchor="middle" font-size="10.3" fill="#262626">NW</text>
<text x="294.55" y="235.6" text-anchor="middle" font-size="10.3" fill="#262626">NE</text>
<text x="326.25" y="235.6" text-anchor="middle" font-size="10.3" fill="#262626">SE</text>
<text transform="translate(350.1 168.8) scale(0.912 1)" text-anchor="end" font-size="10.4" fill="#1a1a1a"><tspan font-style="italic">r</tspan> = -0.73; <tspan font-style="italic">p</tspan> = 1.00E<tspan font-size="6.6" dy="-3.8">-4</tspan></text>
<text x="207.3" y="170.7" font-size="21.4" font-weight="bold" fill="#000">e</text>
<line x1="215.3" y1="263.3" x2="215.3" y2="311.4" stroke="#d95319" stroke-width="1.0"/>
<line x1="247" y1="263.3" x2="247" y2="311.4" stroke="#d95319" stroke-width="1.0"/>
<line x1="278.7" y1="263.3" x2="278.7" y2="311.4" stroke="#d95319" stroke-width="1.0"/>
<line x1="310.4" y1="263.3" x2="310.4" y2="311.4" stroke="#d95319" stroke-width="1.0"/>
<line x1="342.1" y1="263.3" x2="342.1" y2="311.4" stroke="#d95319" stroke-width="1.0"/>
<line x1="231.15" y1="263.3" x2="231.15" y2="311.4" stroke="#14148a" stroke-width="1.0"/>
<line x1="262.85" y1="263.3" x2="262.85" y2="311.4" stroke="#14148a" stroke-width="1.0"/>
<line x1="294.55" y1="263.3" x2="294.55" y2="311.4" stroke="#14148a" stroke-width="1.0"/>
<line x1="326.25" y1="263.3" x2="326.25" y2="311.4" stroke="#14148a" stroke-width="1.0"/>
<rect x="215.3" y="282" width="4.4" height="29.4" fill="url(#bg)" stroke="#777777" stroke-width="0.6"/>
<rect x="219.7" y="273.25" width="4.4" height="38.15" fill="url(#bg)" stroke="#777777" stroke-width="0.6"/>
<rect x="224.11" y="297.6" width="4.4" height="13.8" fill="url(#bg)" stroke="#777777" stroke-width="0.6"/>
<rect x="228.51" y="290.5" width="4.4" height="20.9" fill="url(#bg)" stroke="#777777" stroke-width="0.6"/>
<rect x="232.91" y="282" width="4.4" height="29.4" fill="url(#bg)" stroke="#777777" stroke-width="0.6"/>
<rect x="237.31" y="266.4" width="4.4" height="45" fill="url(#bg)" stroke="#777777" stroke-width="0.6"/>
<rect x="241.72" y="286.4" width="4.4" height="25" fill="url(#bg)" stroke="#777777" stroke-width="0.6"/>
<rect x="246.12" y="284.5" width="4.4" height="26.9" fill="url(#bg)" stroke="#777777" stroke-width="0.6"/>
<rect x="250.52" y="279.25" width="4.4" height="32.15" fill="url(#bg)" stroke="#777777" stroke-width="0.6"/>
<rect x="254.93" y="290.5" width="4.4" height="20.9" fill="url(#bg)" stroke="#777777" stroke-width="0.6"/>
<rect x="259.33" y="284.5" width="4.4" height="26.9" fill="url(#bg)" stroke="#777777" stroke-width="0.6"/>
<rect x="263.73" y="275.1" width="4.4" height="36.3" fill="url(#bg)" stroke="#777777" stroke-width="0.6"/>
<rect x="268.13" y="287.25" width="4.4" height="24.15" fill="url(#bg)" stroke="#777777" stroke-width="0.6"/>
<rect x="272.54" y="308.9" width="4.4" height="2.5" fill="url(#bg)" stroke="#777777" stroke-width="0.6"/>
<rect x="276.94" y="305.5" width="4.4" height="5.9" fill="url(#bg)" stroke="#777777" stroke-width="0.6"/>
<rect x="281.34" y="289.25" width="4.4" height="22.15" fill="url(#bg)" stroke="#777777" stroke-width="0.6"/>
<rect x="285.74" y="284.5" width="4.4" height="26.9" fill="url(#bg)" stroke="#777777" stroke-width="0.6"/>
<rect x="290.15" y="290.75" width="4.4" height="20.65" fill="url(#bg)" stroke="#777777" stroke-width="0.6"/>
<rect x="294.55" y="289.5" width="4.4" height="21.9" fill="url(#bg)" stroke="#777777" stroke-width="0.6"/>
<rect x="298.95" y="277.6" width="4.4" height="33.8" fill="url(#bg)" stroke="#777777" stroke-width="0.6"/>
<rect x="303.36" y="282.25" width="4.4" height="29.15" fill="url(#bg)" stroke="#777777" stroke-width="0.6"/>
<rect x="307.76" y="295.1" width="4.4" height="16.3" fill="url(#bg)" stroke="#777777" stroke-width="0.6"/>
<rect x="312.16" y="278.6" width="4.4" height="32.8" fill="url(#bg)" stroke="#777777" stroke-width="0.6"/>
<rect x="316.56" y="287" width="4.4" height="24.4" fill="url(#bg)" stroke="#777777" stroke-width="0.6"/>
<rect x="320.97" y="282.6" width="4.4" height="28.8" fill="url(#bg)" stroke="#777777" stroke-width="0.6"/>
<rect x="325.37" y="274.1" width="4.4" height="37.3" fill="url(#bg)" stroke="#777777" stroke-width="0.6"/>
<rect x="329.77" y="286.4" width="4.4" height="25" fill="url(#bg)" stroke="#777777" stroke-width="0.6"/>
<rect x="334.18" y="281" width="4.4" height="30.4" fill="url(#bg)" stroke="#777777" stroke-width="0.6"/>
<path d="M216.75 282.62C217.38 283.04 219.04 284.19 220.5 285.12C221.96 286.06 223.83 288.04 225.5 288.25C227.17 288.46 229.04 287.42 230.5 286.38C231.96 285.33 232.9 283.35 234.25 282C235.6 280.65 237.17 278.67 238.62 278.25C240.08 277.83 241.44 278.77 243 279.5C244.56 280.23 246.33 281.79 248 282.62C249.67 283.46 251.33 284.35 253 284.5C254.67 284.65 256.54 283.88 258 283.5C259.46 283.12 260.5 282.08 261.75 282.25C263 282.42 264.25 283.08 265.5 284.5C266.75 285.92 268 288.56 269.25 290.75C270.5 292.94 271.52 296.17 273 297.62C274.48 299.08 276.75 299.81 278.12 299.5C279.5 299.19 280.1 297.1 281.25 295.75C282.4 294.4 283.75 292.62 285 291.38C286.25 290.12 287.29 289.19 288.75 288.25C290.21 287.31 292.08 286.42 293.75 285.75C295.42 285.08 297.08 284.46 298.75 284.25C300.42 284.04 302.08 284.25 303.75 284.5C305.42 284.75 307.29 285.54 308.75 285.75C310.21 285.96 311.25 285.96 312.5 285.75C313.75 285.54 314.79 285.12 316.25 284.5C317.71 283.88 319.58 282.73 321.25 282C322.92 281.27 324.79 280.38 326.25 280.12C327.71 279.88 328.75 280.35 330 280.5C331.25 280.65 332.81 280.85 333.75 281C334.69 281.15 335.31 281.31 335.62 281.38" fill="none" stroke="#ff0000" stroke-width="3.1" stroke-linejoin="round" stroke-linecap="butt"/>
<rect x="208.4" y="263.3" width="140.8" height="48.1" fill="none" stroke="#999999" stroke-width="0.9"/>
<line x1="208.4" y1="266.4" x2="209.9" y2="266.4" stroke="#999999" stroke-width="0.7"/>
<line x1="349.2" y1="266.4" x2="347.7" y2="266.4" stroke="#999999" stroke-width="0.7"/>
<text transform="translate(204.8 270.45) scale(1.03 1)" text-anchor="end" font-size="9.7" fill="#262626">20</text>
<line x1="208.4" y1="282" x2="209.9" y2="282" stroke="#999999" stroke-width="0.7"/>
<line x1="349.2" y1="282" x2="347.7" y2="282" stroke="#999999" stroke-width="0.7"/>
<text transform="translate(204.8 286.05) scale(1.03 1)" text-anchor="end" font-size="9.7" fill="#262626">15</text>
<line x1="208.4" y1="297.7" x2="209.9" y2="297.7" stroke="#999999" stroke-width="0.7"/>
<line x1="349.2" y1="297.7" x2="347.7" y2="297.7" stroke="#999999" stroke-width="0.7"/>
<text transform="translate(204.8 301.75) scale(1.03 1)" text-anchor="end" font-size="9.7" fill="#262626">10</text>
<text x="231.15" y="325.6" text-anchor="middle" font-size="10.3" fill="#262626">SW</text>
<text x="262.85" y="325.6" text-anchor="middle" font-size="10.3" fill="#262626">NW</text>
<text x="294.55" y="325.6" text-anchor="middle" font-size="10.3" fill="#262626">NE</text>
<text x="326.25" y="325.6" text-anchor="middle" font-size="10.3" fill="#262626">SE</text>
<text transform="translate(350.2 258.9) scale(0.912 1)" text-anchor="end" font-size="10.4" fill="#1a1a1a"><tspan font-style="italic">r</tspan> = 0.21; <tspan font-style="italic">p</tspan> = 0.15</text>
<text x="207.3" y="260.8" font-size="21.4" font-weight="bold" fill="#000">f</text>
<line x1="215.3" y1="353.6" x2="215.3" y2="401.4" stroke="#d95319" stroke-width="1.0"/>
<line x1="247" y1="353.6" x2="247" y2="401.4" stroke="#d95319" stroke-width="1.0"/>
<line x1="278.7" y1="353.6" x2="278.7" y2="401.4" stroke="#d95319" stroke-width="1.0"/>
<line x1="310.4" y1="353.6" x2="310.4" y2="401.4" stroke="#d95319" stroke-width="1.0"/>
<line x1="342.1" y1="353.6" x2="342.1" y2="401.4" stroke="#d95319" stroke-width="1.0"/>
<line x1="231.15" y1="353.6" x2="231.15" y2="401.4" stroke="#14148a" stroke-width="1.0"/>
<line x1="262.85" y1="353.6" x2="262.85" y2="401.4" stroke="#14148a" stroke-width="1.0"/>
<line x1="294.55" y1="353.6" x2="294.55" y2="401.4" stroke="#14148a" stroke-width="1.0"/>
<line x1="326.25" y1="353.6" x2="326.25" y2="401.4" stroke="#14148a" stroke-width="1.0"/>
<rect x="215.3" y="393.25" width="4.4" height="8.15" fill="url(#bg)" stroke="#777777" stroke-width="0.6"/>
<rect x="219.7" y="355.1" width="4.4" height="46.3" fill="url(#bg)" stroke="#777777" stroke-width="0.6"/>
<rect x="224.11" y="381" width="4.4" height="20.4" fill="url(#bg)" stroke="#777777" stroke-width="0.6"/>
<rect x="228.51" y="385.1" width="4.4" height="16.3" fill="url(#bg)" stroke="#777777" stroke-width="0.6"/>
<rect x="232.91" y="398.5" width="4.4" height="2.9" fill="url(#bg)" stroke="#777777" stroke-width="0.6"/>
<rect x="237.31" y="388" width="4.4" height="13.4" fill="url(#bg)" stroke="#777777" stroke-width="0.6"/>
<rect x="241.72" y="392" width="4.4" height="9.4" fill="url(#bg)" stroke="#777777" stroke-width="0.6"/>
<rect x="246.12" y="394.5" width="4.4" height="6.9" fill="url(#bg)" stroke="#777777" stroke-width="0.6"/>
<rect x="250.52" y="398.5" width="4.4" height="2.9" fill="url(#bg)" stroke="#777777" stroke-width="0.6"/>
<rect x="254.93" y="386" width="4.4" height="15.4" fill="url(#bg)" stroke="#777777" stroke-width="0.6"/>
<rect x="259.33" y="391" width="4.4" height="10.4" fill="url(#bg)" stroke="#777777" stroke-width="0.6"/>
<rect x="263.73" y="381.75" width="4.4" height="19.65" fill="url(#bg)" stroke="#777777" stroke-width="0.6"/>
<rect x="268.13" y="372" width="4.4" height="29.4" fill="url(#bg)" stroke="#777777" stroke-width="0.6"/>
<rect x="272.54" y="396.4" width="4.4" height="5" fill="url(#bg)" stroke="#777777" stroke-width="0.6"/>
<rect x="276.94" y="395.75" width="4.4" height="5.65" fill="url(#bg)" stroke="#777777" stroke-width="0.6"/>
<rect x="281.34" y="396.4" width="4.4" height="5" fill="url(#bg)" stroke="#777777" stroke-width="0.6"/>
<rect x="285.74" y="388" width="4.4" height="13.4" fill="url(#bg)" stroke="#777777" stroke-width="0.6"/>
<rect x="290.15" y="393.25" width="4.4" height="8.15" fill="url(#bg)" stroke="#777777" stroke-width="0.6"/>
<rect x="294.55" y="390.75" width="4.4" height="10.65" fill="url(#bg)" stroke="#777777" stroke-width="0.6"/>
<rect x="298.95" y="394.5" width="4.4" height="6.9" fill="url(#bg)" stroke="#777777" stroke-width="0.6"/>
<rect x="303.36" y="380.1" width="4.4" height="21.3" fill="url(#bg)" stroke="#777777" stroke-width="0.6"/>
<rect x="307.76" y="396.4" width="4.4" height="5" fill="url(#bg)" stroke="#777777" stroke-width="0.6"/>
<rect x="312.16" y="393.9" width="4.4" height="7.5" fill="url(#bg)" stroke="#777777" stroke-width="0.6"/>
<rect x="316.56" y="391.4" width="4.4" height="10" fill="url(#bg)" stroke="#777777" stroke-width="0.6"/>
<rect x="320.97" y="385.1" width="4.4" height="16.3" fill="url(#bg)" stroke="#777777" stroke-width="0.6"/>
<rect x="325.37" y="399.5" width="4.4" height="1.9" fill="url(#bg)" stroke="#777777" stroke-width="0.6"/>
<rect x="329.77" y="398.5" width="4.4" height="2.9" fill="url(#bg)" stroke="#777777" stroke-width="0.6"/>
<rect x="334.18" y="391" width="4.4" height="10.4" fill="url(#bg)" stroke="#777777" stroke-width="0.6"/>
<path d="M216.75 392C217.38 389.81 219.04 381.48 220.5 378.88C221.96 376.27 224.04 376.06 225.5 376.38C226.96 376.69 228 379.08 229.25 380.75C230.5 382.42 231.54 384.71 233 386.38C234.46 388.04 236.33 389.71 238 390.75C239.67 391.79 241.33 392.1 243 392.62C244.67 393.15 246.33 393.88 248 393.88C249.67 393.88 251.33 393.46 253 392.62C254.67 391.79 256.33 390.33 258 388.88C259.67 387.42 261.65 384.98 263 383.88C264.35 382.77 264.88 382.15 266.12 382.25C267.38 382.35 268.94 383.19 270.5 384.5C272.06 385.81 274.23 388.77 275.5 390.12C276.77 391.48 276.96 391.94 278.12 392.62C279.29 393.31 280.94 394.25 282.5 394.25C284.06 394.25 285.83 393.21 287.5 392.62C289.17 392.04 290.83 391.27 292.5 390.75C294.17 390.23 296.04 389.75 297.5 389.5C298.96 389.25 299.79 389.15 301.25 389.25C302.71 389.35 304.58 389.71 306.25 390.12C307.92 390.54 309.58 391.44 311.25 391.75C312.92 392.06 314.58 391.85 316.25 392C317.92 392.15 319.79 392.31 321.25 392.62C322.71 392.94 323.75 393.56 325 393.88C326.25 394.19 327.5 394.6 328.75 394.5C330 394.4 331.35 393.77 332.5 393.25C333.65 392.73 335.1 391.69 335.62 391.38" fill="none" stroke="#ff0000" stroke-width="3.1" stroke-linejoin="round" stroke-linecap="butt"/>
<rect x="208.4" y="353.6" width="140.8" height="47.8" fill="none" stroke="#999999" stroke-width="0.9"/>
<line x1="208.4" y1="364.1" x2="209.9" y2="364.1" stroke="#999999" stroke-width="0.7"/>
<line x1="349.2" y1="364.1" x2="347.7" y2="364.1" stroke="#999999" stroke-width="0.7"/>
<text transform="translate(204.8 368.15) scale(1.03 1)" text-anchor="end" font-size="9.7" fill="#262626">3</text>
<line x1="208.4" y1="381.2" x2="209.9" y2="381.2" stroke="#999999" stroke-width="0.7"/>
<line x1="349.2" y1="381.2" x2="347.7" y2="381.2" stroke="#999999" stroke-width="0.7"/>
<text transform="translate(204.8 385.25) scale(1.03 1)" text-anchor="end" font-size="9.7" fill="#262626">2</text>
<line x1="208.4" y1="398.2" x2="209.9" y2="398.2" stroke="#999999" stroke-width="0.7"/>
<line x1="349.2" y1="398.2" x2="347.7" y2="398.2" stroke="#999999" stroke-width="0.7"/>
<text transform="translate(204.8 402.25) scale(1.03 1)" text-anchor="end" font-size="9.7" fill="#262626">1</text>
<text x="231.15" y="415.6" text-anchor="middle" font-size="10.3" fill="#262626">SW</text>
<text x="262.85" y="415.6" text-anchor="middle" font-size="10.3" fill="#262626">NW</text>
<text x="294.55" y="415.6" text-anchor="middle" font-size="10.3" fill="#262626">NE</text>
<text x="326.25" y="415.6" text-anchor="middle" font-size="10.3" fill="#262626">SE</text>
<text transform="translate(350.2 349.2) scale(0.912 1)" text-anchor="end" font-size="10.4" fill="#1a1a1a"><tspan font-style="italic">r</tspan> = 0.11; <tspan font-style="italic">p</tspan> = 0.31</text>
<text x="207.3" y="345.5" font-size="21.4" font-weight="bold" fill="#000">g</text>
<line x1="382.6" y1="173.2" x2="382.6" y2="221.4" stroke="#d95319" stroke-width="1.0"/>
<line x1="414.3" y1="173.2" x2="414.3" y2="221.4" stroke="#d95319" stroke-width="1.0"/>
<line x1="446" y1="173.2" x2="446" y2="221.4" stroke="#d95319" stroke-width="1.0"/>
<line x1="477.7" y1="173.2" x2="477.7" y2="221.4" stroke="#d95319" stroke-width="1.0"/>
<line x1="509.4" y1="173.2" x2="509.4" y2="221.4" stroke="#d95319" stroke-width="1.0"/>
<line x1="398.45" y1="173.2" x2="398.45" y2="221.4" stroke="#14148a" stroke-width="1.0"/>
<line x1="430.15" y1="173.2" x2="430.15" y2="221.4" stroke="#14148a" stroke-width="1.0"/>
<line x1="461.85" y1="173.2" x2="461.85" y2="221.4" stroke="#14148a" stroke-width="1.0"/>
<line x1="493.55" y1="173.2" x2="493.55" y2="221.4" stroke="#14148a" stroke-width="1.0"/>
<rect x="382.6" y="206.9" width="4.4" height="14.5" fill="url(#bg)" stroke="#777777" stroke-width="0.6"/>
<rect x="387" y="212.9" width="4.4" height="8.5" fill="url(#bg)" stroke="#777777" stroke-width="0.6"/>
<rect x="391.41" y="204.2" width="4.4" height="17.2" fill="url(#bg)" stroke="#777777" stroke-width="0.6"/>
<rect x="395.81" y="216.3" width="4.4" height="5.1" fill="url(#bg)" stroke="#777777" stroke-width="0.6"/>
<rect x="400.21" y="216.3" width="4.4" height="5.1" fill="url(#bg)" stroke="#777777" stroke-width="0.6"/>
<rect x="404.61" y="194.1" width="4.4" height="27.3" fill="url(#bg)" stroke="#777777" stroke-width="0.6"/>
<rect x="409.02" y="206.9" width="4.4" height="14.5" fill="url(#bg)" stroke="#777777" stroke-width="0.6"/>
<rect x="413.42" y="191.2" width="4.4" height="30.2" fill="url(#gg)" stroke="#86b886" stroke-width="0.6"/>
<rect x="417.82" y="196.4" width="4.4" height="25" fill="url(#gg)" stroke="#86b886" stroke-width="0.6"/>
<rect x="422.23" y="193.25" width="4.4" height="28.15" fill="url(#gg)" stroke="#86b886" stroke-width="0.6"/>
<rect x="426.63" y="209.25" width="4.4" height="12.15" fill="url(#gg)" stroke="#86b886" stroke-width="0.6"/>
<rect x="431.03" y="212.25" width="4.4" height="9.15" fill="url(#gg)" stroke="#86b886" stroke-width="0.6"/>
<rect x="435.43" y="215.1" width="4.4" height="6.3" fill="url(#gg)" stroke="#86b886" stroke-width="0.6"/>
<rect x="439.84" y="215.1" width="4.4" height="6.3" fill="url(#gg)" stroke="#86b886" stroke-width="0.6"/>
<rect x="444.24" y="216.8" width="4.4" height="4.6" fill="url(#gg)" stroke="#86b886" stroke-width="0.6"/>
<rect x="448.64" y="196.4" width="4.4" height="25" fill="url(#gg)" stroke="#86b886" stroke-width="0.6"/>
<rect x="453.04" y="204" width="4.4" height="17.4" fill="url(#gg)" stroke="#86b886" stroke-width="0.6"/>
<rect x="457.45" y="206.9" width="4.4" height="14.5" fill="url(#gg)" stroke="#86b886" stroke-width="0.6"/>
<rect x="461.85" y="214.2" width="4.4" height="7.2" fill="url(#gg)" stroke="#86b886" stroke-width="0.6"/>
<rect x="466.25" y="201.9" width="4.4" height="19.5" fill="url(#gg)" stroke="#86b886" stroke-width="0.6"/>
<rect x="470.66" y="201.4" width="4.4" height="20" fill="url(#gg)" stroke="#86b886" stroke-width="0.6"/>
<rect x="475.06" y="207.8" width="4.4" height="13.6" fill="url(#gg)" stroke="#86b886" stroke-width="0.6"/>
<rect x="479.46" y="190.75" width="4.4" height="30.65" fill="url(#gg)" stroke="#86b886" stroke-width="0.6"/>
<rect x="483.86" y="175.75" width="4.4" height="45.65" fill="url(#gg)" stroke="#86b886" stroke-width="0.6"/>
<rect x="488.27" y="201.4" width="4.4" height="20" fill="url(#gg)" stroke="#86b886" stroke-width="0.6"/>
<rect x="492.67" y="218.25" width="4.4" height="3.15" fill="url(#gg)" stroke="#86b886" stroke-width="0.6"/>
<path d="M384.38 207.62C385.1 207.94 387.19 208.88 388.75 209.5C390.31 210.12 392.08 210.96 393.75 211.38C395.42 211.79 397.08 212.52 398.75 212C400.42 211.48 402.08 209.92 403.75 208.25C405.42 206.58 407.08 203.88 408.75 202C410.42 200.12 412.08 198.15 413.75 197C415.42 195.85 417.08 195.02 418.75 195.12C420.42 195.23 422.08 196.27 423.75 197.62C425.42 198.98 427.08 201.17 428.75 203.25C430.42 205.33 432.29 208.35 433.75 210.12C435.21 211.9 436.25 213.15 437.5 213.88C438.75 214.6 439.88 215.12 441.25 214.5C442.62 213.88 444.38 211.58 445.75 210.12C447.12 208.67 448.04 207 449.5 205.75C450.96 204.5 452.83 202.88 454.5 202.62C456.17 202.38 457.83 203.62 459.5 204.25C461.17 204.88 462.83 206.23 464.5 206.38C466.17 206.52 467.83 206.17 469.5 205.12C471.17 204.08 472.83 202.1 474.5 200.12C476.17 198.15 478.25 194.81 479.5 193.25C480.75 191.69 480.96 191.21 482 190.75C483.04 190.29 484.5 189.25 485.75 190.5C487 191.75 488.25 195.29 489.5 198.25C490.75 201.21 492 205.33 493.25 208.25C494.5 211.17 495.75 213.77 497 215.75C498.25 217.73 499.71 219.19 500.75 220.12C501.79 221.06 502.83 221.17 503.25 221.38" fill="none" stroke="#0a6e0a" stroke-width="3.1" stroke-linejoin="round" stroke-linecap="butt"/>
<rect x="375.5" y="173.2" width="140.9" height="48.2" fill="none" stroke="#999999" stroke-width="0.9"/>
<line x1="375.5" y1="196" x2="377" y2="196" stroke="#999999" stroke-width="0.7"/>
<line x1="516.4" y1="196" x2="514.9" y2="196" stroke="#999999" stroke-width="0.7"/>
<text transform="translate(371.9 200.05) scale(1.03 1)" text-anchor="end" font-size="9.7" fill="#262626">1</text>
<line x1="375.5" y1="221.4" x2="377" y2="221.4" stroke="#999999" stroke-width="0.7"/>
<line x1="516.4" y1="221.4" x2="514.9" y2="221.4" stroke="#999999" stroke-width="0.7"/>
<text transform="translate(371.9 225.45) scale(1.03 1)" text-anchor="end" font-size="9.7" fill="#262626">0</text>
<text x="398.45" y="235.6" text-anchor="middle" font-size="10.3" fill="#262626">SW</text>
<text x="430.15" y="235.6" text-anchor="middle" font-size="10.3" fill="#262626">NW</text>
<text x="461.85" y="235.6" text-anchor="middle" font-size="10.3" fill="#262626">NE</text>
<text x="493.55" y="235.6" text-anchor="middle" font-size="10.3" fill="#262626">SE</text>
<text transform="translate(517.4 168.8) scale(0.912 1)" text-anchor="end" font-size="10.4" fill="#1a1a1a"><tspan font-style="italic">r</tspan> = -0.26; <tspan font-style="italic">p</tspan> = 0.095</text>
<text x="374.3" y="170.7" font-size="21.4" font-weight="bold" fill="#000">h</text>
<line x1="382.6" y1="263.3" x2="382.6" y2="311.4" stroke="#d95319" stroke-width="1.0"/>
<line x1="414.3" y1="263.3" x2="414.3" y2="311.4" stroke="#d95319" stroke-width="1.0"/>
<line x1="446" y1="263.3" x2="446" y2="311.4" stroke="#d95319" stroke-width="1.0"/>
<line x1="477.7" y1="263.3" x2="477.7" y2="311.4" stroke="#d95319" stroke-width="1.0"/>
<line x1="509.4" y1="263.3" x2="509.4" y2="311.4" stroke="#d95319" stroke-width="1.0"/>
<line x1="398.45" y1="263.3" x2="398.45" y2="311.4" stroke="#14148a" stroke-width="1.0"/>
<line x1="430.15" y1="263.3" x2="430.15" y2="311.4" stroke="#14148a" stroke-width="1.0"/>
<line x1="461.85" y1="263.3" x2="461.85" y2="311.4" stroke="#14148a" stroke-width="1.0"/>
<line x1="493.55" y1="263.3" x2="493.55" y2="311.4" stroke="#14148a" stroke-width="1.0"/>
<rect x="382.6" y="286.4" width="4.4" height="25" fill="url(#bg)" stroke="#777777" stroke-width="0.6"/>
<rect x="387" y="287.6" width="4.4" height="23.8" fill="url(#bg)" stroke="#777777" stroke-width="0.6"/>
<rect x="391.41" y="286.4" width="4.4" height="25" fill="url(#bg)" stroke="#777777" stroke-width="0.6"/>
<rect x="395.81" y="295.5" width="4.4" height="15.9" fill="url(#bg)" stroke="#777777" stroke-width="0.6"/>
<rect x="400.21" y="285.5" width="4.4" height="25.9" fill="url(#bg)" stroke="#777777" stroke-width="0.6"/>
<rect x="404.61" y="290.1" width="4.4" height="21.3" fill="url(#bg)" stroke="#777777" stroke-width="0.6"/>
<rect x="409.02" y="287.25" width="4.4" height="24.15" fill="url(#bg)" stroke="#777777" stroke-width="0.6"/>
<rect x="413.42" y="286.4" width="4.4" height="25" fill="url(#gg)" stroke="#86b886" stroke-width="0.6"/>
<rect x="417.82" y="298.25" width="4.4" height="13.15" fill="url(#gg)" stroke="#86b886" stroke-width="0.6"/>
<rect x="422.23" y="295.1" width="4.4" height="16.3" fill="url(#gg)" stroke="#86b886" stroke-width="0.6"/>
<rect x="426.63" y="288.9" width="4.4" height="22.5" fill="url(#gg)" stroke="#86b886" stroke-width="0.6"/>
<rect x="431.03" y="268.25" width="4.4" height="43.15" fill="url(#gg)" stroke="#86b886" stroke-width="0.6"/>
<rect x="435.43" y="290.75" width="4.4" height="20.65" fill="url(#gg)" stroke="#86b886" stroke-width="0.6"/>
<rect x="439.84" y="304.5" width="4.4" height="6.9" fill="url(#gg)" stroke="#86b886" stroke-width="0.6"/>
<rect x="444.24" y="291.75" width="4.4" height="19.65" fill="url(#gg)" stroke="#86b886" stroke-width="0.6"/>
<rect x="448.64" y="294.75" width="4.4" height="16.65" fill="url(#gg)" stroke="#86b886" stroke-width="0.6"/>
<rect x="453.04" y="298" width="4.4" height="13.4" fill="url(#gg)" stroke="#86b886" stroke-width="0.6"/>
<rect x="457.45" y="270.5" width="4.4" height="40.9" fill="url(#gg)" stroke="#86b886" stroke-width="0.6"/>
<rect x="461.85" y="269.5" width="4.4" height="41.9" fill="url(#gg)" stroke="#86b886" stroke-width="0.6"/>
<rect x="466.25" y="277.6" width="4.4" height="33.8" fill="url(#gg)" stroke="#86b886" stroke-width="0.6"/>
<rect x="470.66" y="307.25" width="4.4" height="4.15" fill="url(#gg)" stroke="#86b886" stroke-width="0.6"/>
<rect x="475.06" y="288.25" width="4.4" height="23.15" fill="url(#gg)" stroke="#86b886" stroke-width="0.6"/>
<rect x="479.46" y="285.5" width="4.4" height="25.9" fill="url(#gg)" stroke="#86b886" stroke-width="0.6"/>
<rect x="483.86" y="303" width="4.4" height="8.4" fill="url(#gg)" stroke="#86b886" stroke-width="0.6"/>
<rect x="488.27" y="281.4" width="4.4" height="30" fill="url(#gg)" stroke="#86b886" stroke-width="0.6"/>
<rect x="492.67" y="277.6" width="4.4" height="33.8" fill="url(#gg)" stroke="#86b886" stroke-width="0.6"/>
<rect x="497.07" y="273.25" width="4.4" height="38.15" fill="url(#gg)" stroke="#86b886" stroke-width="0.6"/>
<rect x="501.48" y="280.75" width="4.4" height="30.65" fill="url(#gg)" stroke="#86b886" stroke-width="0.6"/>
<path d="M384.38 286.38C385.1 286.58 387.19 287.21 388.75 287.62C390.31 288.04 392.08 288.52 393.75 288.88C395.42 289.23 397.08 289.69 398.75 289.75C400.42 289.81 402.08 289.4 403.75 289.25C405.42 289.1 407.08 288.73 408.75 288.88C410.42 289.02 412.08 289.6 413.75 290.12C415.42 290.65 417.08 292 418.75 292C420.42 292 422.08 291.17 423.75 290.12C425.42 289.08 427.19 286.9 428.75 285.75C430.31 284.6 431.67 283.04 433.12 283.25C434.58 283.46 436.15 285.44 437.5 287C438.85 288.56 439.88 291.06 441.25 292.62C442.62 294.19 444.38 296.02 445.75 296.38C447.12 296.73 448.04 296.21 449.5 294.75C450.96 293.29 452.83 290.17 454.5 287.62C456.17 285.08 458.04 281.38 459.5 279.5C460.96 277.62 462 276.38 463.25 276.38C464.5 276.38 465.54 277.62 467 279.5C468.46 281.38 470.33 285.38 472 287.62C473.67 289.88 475.33 292.06 477 293C478.67 293.94 480.33 293.73 482 293.25C483.67 292.77 485.33 291.69 487 290.12C488.67 288.56 490.33 285.85 492 283.88C493.67 281.9 495.65 279.19 497 278.25C498.35 277.31 499.08 277.83 500.12 278.25C501.17 278.67 502.73 280.33 503.25 280.75" fill="none" stroke="#0a6e0a" stroke-width="3.1" stroke-linejoin="round" stroke-linecap="butt"/>
<rect x="375.5" y="263.3" width="140.9" height="48.1" fill="none" stroke="#999999" stroke-width="0.9"/>
<line x1="375.5" y1="273.65" x2="377" y2="273.65" stroke="#999999" stroke-width="0.7"/>
<line x1="516.4" y1="273.65" x2="514.9" y2="273.65" stroke="#999999" stroke-width="0.7"/>
<text transform="translate(371.9 277.7) scale(1.03 1)" text-anchor="end" font-size="9.7" fill="#262626">10</text>
<line x1="375.5" y1="292.4" x2="377" y2="292.4" stroke="#999999" stroke-width="0.7"/>
<line x1="516.4" y1="292.4" x2="514.9" y2="292.4" stroke="#999999" stroke-width="0.7"/>
<text transform="translate(371.9 296.45) scale(1.03 1)" text-anchor="end" font-size="9.7" fill="#262626">8</text>
<line x1="375.5" y1="311.4" x2="377" y2="311.4" stroke="#999999" stroke-width="0.7"/>
<line x1="516.4" y1="311.4" x2="514.9" y2="311.4" stroke="#999999" stroke-width="0.7"/>
<text transform="translate(371.9 315.45) scale(1.03 1)" text-anchor="end" font-size="9.7" fill="#262626">6</text>
<text x="398.45" y="325.6" text-anchor="middle" font-size="10.3" fill="#262626">SW</text>
<text x="430.15" y="325.6" text-anchor="middle" font-size="10.3" fill="#262626">NW</text>
<text x="461.85" y="325.6" text-anchor="middle" font-size="10.3" fill="#262626">NE</text>
<text x="493.55" y="325.6" text-anchor="middle" font-size="10.3" fill="#262626">SE</text>
<text transform="translate(517.3 258.9) scale(0.912 1)" text-anchor="end" font-size="10.4" fill="#1a1a1a"><tspan font-style="italic">r</tspan> = 0.46; <tspan font-style="italic">p</tspan> = 7.20E<tspan font-size="6.6" dy="-3.8">-3</tspan></text>
<text x="374.3" y="260.8" font-size="21.4" font-weight="bold" fill="#000">i</text>
<line x1="382.6" y1="353.6" x2="382.6" y2="401.4" stroke="#d95319" stroke-width="1.0"/>
<line x1="414.3" y1="353.6" x2="414.3" y2="401.4" stroke="#d95319" stroke-width="1.0"/>
<line x1="446" y1="353.6" x2="446" y2="401.4" stroke="#d95319" stroke-width="1.0"/>
<line x1="477.7" y1="353.6" x2="477.7" y2="401.4" stroke="#d95319" stroke-width="1.0"/>
<line x1="509.4" y1="353.6" x2="509.4" y2="401.4" stroke="#d95319" stroke-width="1.0"/>
<line x1="398.45" y1="353.6" x2="398.45" y2="401.4" stroke="#14148a" stroke-width="1.0"/>
<line x1="430.15" y1="353.6" x2="430.15" y2="401.4" stroke="#14148a" stroke-width="1.0"/>
<line x1="461.85" y1="353.6" x2="461.85" y2="401.4" stroke="#14148a" stroke-width="1.0"/>
<line x1="493.55" y1="353.6" x2="493.55" y2="401.4" stroke="#14148a" stroke-width="1.0"/>
<rect x="395.81" y="400.6" width="4.4" height="0.8" fill="url(#bg)" stroke="#777777" stroke-width="0.6"/>
<rect x="404.61" y="400.6" width="4.4" height="0.8" fill="url(#bg)" stroke="#777777" stroke-width="0.6"/>
<rect x="409.02" y="400.6" width="4.4" height="0.8" fill="url(#bg)" stroke="#777777" stroke-width="0.6"/>
<rect x="431.03" y="395" width="4.4" height="6.4" fill="url(#gg)" stroke="#86b886" stroke-width="0.6"/>
<rect x="435.43" y="380.75" width="4.4" height="20.65" fill="url(#gg)" stroke="#86b886" stroke-width="0.6"/>
<rect x="439.84" y="359.5" width="4.4" height="41.9" fill="url(#gg)" stroke="#86b886" stroke-width="0.6"/>
<rect x="444.24" y="355.5" width="4.4" height="45.9" fill="url(#gg)" stroke="#86b886" stroke-width="0.6"/>
<rect x="448.64" y="386.4" width="4.4" height="15" fill="url(#gg)" stroke="#86b886" stroke-width="0.6"/>
<rect x="453.04" y="398.5" width="4.4" height="2.9" fill="url(#gg)" stroke="#86b886" stroke-width="0.6"/>
<rect x="457.45" y="400" width="4.4" height="1.4" fill="url(#gg)" stroke="#86b886" stroke-width="0.6"/>
<rect x="466.25" y="397.25" width="4.4" height="4.15" fill="url(#gg)" stroke="#86b886" stroke-width="0.6"/>
<rect x="488.27" y="395.75" width="4.4" height="5.65" fill="url(#gg)" stroke="#86b886" stroke-width="0.6"/>
<rect x="492.67" y="388.5" width="4.4" height="12.9" fill="url(#gg)" stroke="#86b886" stroke-width="0.6"/>
<path d="M384.38 401.38C385.1 401.17 387.19 400.48 388.75 400.12C390.31 399.77 392.08 399.52 393.75 399.25C395.42 398.98 397.08 398.67 398.75 398.5C400.42 398.33 402.08 398.33 403.75 398.25C405.42 398.17 407.08 398.04 408.75 398C410.42 397.96 412.08 397.79 413.75 398C415.42 398.21 417.08 398.79 418.75 399.25C420.42 399.71 422.29 401.02 423.75 400.75C425.21 400.48 426.25 399.5 427.5 397.62C428.75 395.75 430 392.52 431.25 389.5C432.5 386.48 433.75 382.62 435 379.5C436.25 376.38 437.71 373.04 438.75 370.75C439.79 368.46 440.08 366.38 441.25 365.75C442.42 365.12 444.38 365.33 445.75 367C447.12 368.67 448.25 372.62 449.5 375.75C450.75 378.88 452 382.62 453.25 385.75C454.5 388.88 455.75 392.21 457 394.5C458.25 396.79 459.5 398.5 460.75 399.5C462 400.5 463.04 400.46 464.5 400.5C465.96 400.54 467.83 399.88 469.5 399.75C471.17 399.62 472.83 399.79 474.5 399.75C476.17 399.71 477.83 399.75 479.5 399.5C481.17 399.25 482.83 398.83 484.5 398.25C486.17 397.67 487.83 396.52 489.5 396C491.17 395.48 493.04 394.96 494.5 395.12C495.96 395.29 497.21 396.31 498.25 397C499.29 397.69 499.92 398.56 500.75 399.25C501.58 399.94 502.83 400.81 503.25 401.12" fill="none" stroke="#0a6e0a" stroke-width="3.1" stroke-linejoin="round" stroke-linecap="butt"/>
<rect x="375.5" y="353.6" width="140.9" height="47.8" fill="none" stroke="#999999" stroke-width="0.9"/>
<line x1="375.5" y1="367.2" x2="377" y2="367.2" stroke="#999999" stroke-width="0.7"/>
<line x1="516.4" y1="367.2" x2="514.9" y2="367.2" stroke="#999999" stroke-width="0.7"/>
<text transform="translate(371.9 371.25) scale(1.03 1)" text-anchor="end" font-size="9.7" fill="#262626">2</text>
<line x1="375.5" y1="384.1" x2="377" y2="384.1" stroke="#999999" stroke-width="0.7"/>
<line x1="516.4" y1="384.1" x2="514.9" y2="384.1" stroke="#999999" stroke-width="0.7"/>
<text transform="translate(371.9 388.15) scale(1.03 1)" text-anchor="end" font-size="9.7" fill="#262626">1</text>
<line x1="375.5" y1="401.4" x2="377" y2="401.4" stroke="#999999" stroke-width="0.7"/>
<line x1="516.4" y1="401.4" x2="514.9" y2="401.4" stroke="#999999" stroke-width="0.7"/>
<text transform="translate(371.9 405.45) scale(1.03 1)" text-anchor="end" font-size="9.7" fill="#262626">0</text>
<text x="398.45" y="415.6" text-anchor="middle" font-size="10.3" fill="#262626">SW</text>
<text x="430.15" y="415.6" text-anchor="middle" font-size="10.3" fill="#262626">NW</text>
<text x="461.85" y="415.6" text-anchor="middle" font-size="10.3" fill="#262626">NE</text>
<text x="493.55" y="415.6" text-anchor="middle" font-size="10.3" fill="#262626">SE</text>
<text transform="translate(517.4 349.2) scale(0.912 1)" text-anchor="end" font-size="10.4" fill="#1a1a1a"><tspan font-style="italic">r</tspan> = -0.26; <tspan font-style="italic">p</tspan> = 0.094</text>
<text x="377.3" y="345.5" font-size="21.4" font-weight="bold" fill="#000">j</text>
<line x1="550.8" y1="173.2" x2="550.8" y2="221.4" stroke="#d95319" stroke-width="1.0"/>
<line x1="582.5" y1="173.2" x2="582.5" y2="221.4" stroke="#d95319" stroke-width="1.0"/>
<line x1="614.2" y1="173.2" x2="614.2" y2="221.4" stroke="#d95319" stroke-width="1.0"/>
<line x1="645.9" y1="173.2" x2="645.9" y2="221.4" stroke="#d95319" stroke-width="1.0"/>
<line x1="677.6" y1="173.2" x2="677.6" y2="221.4" stroke="#d95319" stroke-width="1.0"/>
<line x1="566.65" y1="173.2" x2="566.65" y2="221.4" stroke="#14148a" stroke-width="1.0"/>
<line x1="598.35" y1="173.2" x2="598.35" y2="221.4" stroke="#14148a" stroke-width="1.0"/>
<line x1="630.05" y1="173.2" x2="630.05" y2="221.4" stroke="#14148a" stroke-width="1.0"/>
<line x1="661.75" y1="173.2" x2="661.75" y2="221.4" stroke="#14148a" stroke-width="1.0"/>
<rect x="555.2" y="177.6" width="4.4" height="43.8" fill="url(#bg)" stroke="#777777" stroke-width="0.6"/>
<rect x="559.61" y="203" width="4.4" height="18.4" fill="url(#bg)" stroke="#777777" stroke-width="0.6"/>
<rect x="564.01" y="211.75" width="4.4" height="9.65" fill="url(#bg)" stroke="#777777" stroke-width="0.6"/>
<rect x="568.41" y="202.6" width="4.4" height="18.8" fill="url(#bg)" stroke="#777777" stroke-width="0.6"/>
<rect x="572.81" y="195.1" width="4.4" height="26.3" fill="url(#bg)" stroke="#777777" stroke-width="0.6"/>
<rect x="577.22" y="197.25" width="4.4" height="24.15" fill="url(#bg)" stroke="#777777" stroke-width="0.6"/>
<rect x="581.62" y="214.5" width="4.4" height="6.9" fill="url(#bg)" stroke="#777777" stroke-width="0.6"/>
<rect x="586.02" y="205.1" width="4.4" height="16.3" fill="url(#gg)" stroke="#86b886" stroke-width="0.6"/>
<rect x="590.42" y="209.5" width="4.4" height="11.9" fill="url(#gg)" stroke="#86b886" stroke-width="0.6"/>
<rect x="594.83" y="217.25" width="4.4" height="4.15" fill="url(#gg)" stroke="#86b886" stroke-width="0.6"/>
<rect x="599.23" y="210.75" width="4.4" height="10.65" fill="url(#gg)" stroke="#86b886" stroke-width="0.6"/>
<rect x="603.63" y="200.75" width="4.4" height="20.65" fill="url(#gg)" stroke="#86b886" stroke-width="0.6"/>
<rect x="608.04" y="200.1" width="4.4" height="21.3" fill="url(#gg)" stroke="#86b886" stroke-width="0.6"/>
<rect x="612.44" y="197.6" width="4.4" height="23.8" fill="url(#gg)" stroke="#86b886" stroke-width="0.6"/>
<rect x="616.84" y="196.4" width="4.4" height="25" fill="url(#gg)" stroke="#86b886" stroke-width="0.6"/>
<rect x="621.24" y="198.9" width="4.4" height="22.5" fill="url(#gg)" stroke="#86b886" stroke-width="0.6"/>
<rect x="625.65" y="203.9" width="4.4" height="17.5" fill="url(#gg)" stroke="#86b886" stroke-width="0.6"/>
<rect x="630.05" y="198.25" width="4.4" height="23.15" fill="url(#gg)" stroke="#86b886" stroke-width="0.6"/>
<rect x="634.45" y="188" width="4.4" height="33.4" fill="url(#gg)" stroke="#86b886" stroke-width="0.6"/>
<rect x="638.86" y="205.5" width="4.4" height="15.9" fill="url(#gg)" stroke="#86b886" stroke-width="0.6"/>
<rect x="643.26" y="201.4" width="4.4" height="20" fill="url(#gg)" stroke="#86b886" stroke-width="0.6"/>
<rect x="647.66" y="181.4" width="4.4" height="40" fill="url(#gg)" stroke="#86b886" stroke-width="0.6"/>
<rect x="652.06" y="190.75" width="4.4" height="30.65" fill="url(#gg)" stroke="#86b886" stroke-width="0.6"/>
<rect x="656.47" y="195.75" width="4.4" height="25.65" fill="url(#gg)" stroke="#86b886" stroke-width="0.6"/>
<rect x="660.87" y="193.9" width="4.4" height="27.5" fill="url(#gg)" stroke="#86b886" stroke-width="0.6"/>
<rect x="665.27" y="183.9" width="4.4" height="37.5" fill="url(#gg)" stroke="#86b886" stroke-width="0.6"/>
<path d="M556.12 177.62C556.65 179.19 558.21 183.77 559.25 187C560.29 190.23 561.33 194.19 562.38 197C563.42 199.81 564.35 202.58 565.5 203.88C566.65 205.17 568 204.96 569.25 204.75C570.5 204.54 571.75 203.19 573 202.62C574.25 202.06 575.5 201.38 576.75 201.38C578 201.38 579.25 201.79 580.5 202.62C581.75 203.46 582.79 205.12 584.25 206.38C585.71 207.62 587.58 209.23 589.25 210.12C590.92 211.02 592.79 211.48 594.25 211.75C595.71 212.02 596.75 212.23 598 211.75C599.25 211.27 600.5 210.12 601.75 208.88C603 207.62 604.25 205.65 605.5 204.25C606.75 202.85 607.67 201.4 609.25 200.5C610.83 199.6 613.42 199.04 615 198.88C616.58 198.71 617.5 199.23 618.75 199.5C620 199.77 621.04 200.6 622.5 200.5C623.96 200.4 625.83 199.46 627.5 198.88C629.17 198.29 630.83 197.35 632.5 197C634.17 196.65 635.83 197.06 637.5 196.75C639.17 196.44 640.83 195.81 642.5 195.12C644.17 194.44 645.83 193.35 647.5 192.62C649.17 191.9 650.83 190.96 652.5 190.75C654.17 190.54 656.04 191.58 657.5 191.38C658.96 191.17 660.1 190.33 661.25 189.5C662.4 188.67 663.44 187.42 664.38 186.38C665.31 185.33 666.46 183.77 666.88 183.25" fill="none" stroke="#0a6e0a" stroke-width="3.1" stroke-linejoin="round" stroke-linecap="butt"/>
<rect x="543.6" y="173.2" width="140.5" height="48.2" fill="none" stroke="#999999" stroke-width="0.9"/>
<line x1="543.6" y1="183.5" x2="545.1" y2="183.5" stroke="#999999" stroke-width="0.7"/>
<line x1="684.1" y1="183.5" x2="682.6" y2="183.5" stroke="#999999" stroke-width="0.7"/>
<text transform="translate(540 187.55) scale(1.03 1)" text-anchor="end" font-size="9.7" fill="#262626">25</text>
<line x1="543.6" y1="198.8" x2="545.1" y2="198.8" stroke="#999999" stroke-width="0.7"/>
<line x1="684.1" y1="198.8" x2="682.6" y2="198.8" stroke="#999999" stroke-width="0.7"/>
<text transform="translate(540 202.85) scale(1.03 1)" text-anchor="end" font-size="9.7" fill="#262626">20</text>
<line x1="543.6" y1="214.1" x2="545.1" y2="214.1" stroke="#999999" stroke-width="0.7"/>
<line x1="684.1" y1="214.1" x2="682.6" y2="214.1" stroke="#999999" stroke-width="0.7"/>
<text transform="translate(540 218.15) scale(1.03 1)" text-anchor="end" font-size="9.7" fill="#262626">15</text>
<text x="566.65" y="235.6" text-anchor="middle" font-size="10.3" fill="#262626">SW</text>
<text x="598.35" y="235.6" text-anchor="middle" font-size="10.3" fill="#262626">NW</text>
<text x="630.05" y="235.6" text-anchor="middle" font-size="10.3" fill="#262626">NE</text>
<text x="661.75" y="235.6" text-anchor="middle" font-size="10.3" fill="#262626">SE</text>
<text transform="translate(685.1 168.8) scale(0.912 1)" text-anchor="end" font-size="10.4" fill="#1a1a1a"><tspan font-style="italic">r</tspan> = -0.15; <tspan font-style="italic">p</tspan> = 0.23</text>
<text x="542.6" y="170.7" font-size="21.4" font-weight="bold" fill="#000">k</text>
<line x1="550.8" y1="263.3" x2="550.8" y2="311.4" stroke="#d95319" stroke-width="1.0"/>
<line x1="582.5" y1="263.3" x2="582.5" y2="311.4" stroke="#d95319" stroke-width="1.0"/>
<line x1="614.2" y1="263.3" x2="614.2" y2="311.4" stroke="#d95319" stroke-width="1.0"/>
<line x1="645.9" y1="263.3" x2="645.9" y2="311.4" stroke="#d95319" stroke-width="1.0"/>
<line x1="677.6" y1="263.3" x2="677.6" y2="311.4" stroke="#d95319" stroke-width="1.0"/>
<line x1="566.65" y1="263.3" x2="566.65" y2="311.4" stroke="#14148a" stroke-width="1.0"/>
<line x1="598.35" y1="263.3" x2="598.35" y2="311.4" stroke="#14148a" stroke-width="1.0"/>
<line x1="630.05" y1="263.3" x2="630.05" y2="311.4" stroke="#14148a" stroke-width="1.0"/>
<line x1="661.75" y1="263.3" x2="661.75" y2="311.4" stroke="#14148a" stroke-width="1.0"/>
<rect x="550.8" y="280.5" width="4.4" height="30.9" fill="url(#bg)" stroke="#777777" stroke-width="0.6"/>
<rect x="555.2" y="300.1" width="4.4" height="11.3" fill="url(#bg)" stroke="#777777" stroke-width="0.6"/>
<rect x="559.61" y="310.1" width="4.4" height="1.3" fill="url(#bg)" stroke="#777777" stroke-width="0.6"/>
<rect x="564.01" y="301.75" width="4.4" height="9.65" fill="url(#bg)" stroke="#777777" stroke-width="0.6"/>
<rect x="568.41" y="281.4" width="4.4" height="30" fill="url(#bg)" stroke="#777777" stroke-width="0.6"/>
<rect x="572.81" y="265.75" width="4.4" height="45.65" fill="url(#bg)" stroke="#777777" stroke-width="0.6"/>
<rect x="577.22" y="277" width="4.4" height="34.4" fill="url(#bg)" stroke="#777777" stroke-width="0.6"/>
<rect x="581.62" y="288.9" width="4.4" height="22.5" fill="url(#gg)" stroke="#86b886" stroke-width="0.6"/>
<rect x="586.02" y="298.25" width="4.4" height="13.15" fill="url(#gg)" stroke="#86b886" stroke-width="0.6"/>
<rect x="590.42" y="306.4" width="4.4" height="5" fill="url(#gg)" stroke="#86b886" stroke-width="0.6"/>
<rect x="594.83" y="307" width="4.4" height="4.4" fill="url(#gg)" stroke="#86b886" stroke-width="0.6"/>
<rect x="599.23" y="297.6" width="4.4" height="13.8" fill="url(#gg)" stroke="#86b886" stroke-width="0.6"/>
<rect x="603.63" y="295.5" width="4.4" height="15.9" fill="url(#gg)" stroke="#86b886" stroke-width="0.6"/>
<rect x="608.04" y="303.25" width="4.4" height="8.15" fill="url(#gg)" stroke="#86b886" stroke-width="0.6"/>
<rect x="612.44" y="308.25" width="4.4" height="3.15" fill="url(#gg)" stroke="#86b886" stroke-width="0.6"/>
<rect x="616.84" y="299.25" width="4.4" height="12.15" fill="url(#gg)" stroke="#86b886" stroke-width="0.6"/>
<rect x="621.24" y="307.6" width="4.4" height="3.8" fill="url(#gg)" stroke="#86b886" stroke-width="0.6"/>
<rect x="625.65" y="310.1" width="4.4" height="1.3" fill="url(#gg)" stroke="#86b886" stroke-width="0.6"/>
<rect x="634.45" y="310.1" width="4.4" height="1.3" fill="url(#gg)" stroke="#86b886" stroke-width="0.6"/>
<rect x="638.86" y="310.8" width="4.4" height="0.6" fill="url(#gg)" stroke="#86b886" stroke-width="0.6"/>
<rect x="643.26" y="293" width="4.4" height="18.4" fill="url(#gg)" stroke="#86b886" stroke-width="0.6"/>
<rect x="647.66" y="308.5" width="4.4" height="2.9" fill="url(#gg)" stroke="#86b886" stroke-width="0.6"/>
<rect x="652.06" y="306.75" width="4.4" height="4.65" fill="url(#gg)" stroke="#86b886" stroke-width="0.6"/>
<rect x="656.47" y="310.5" width="4.4" height="0.9" fill="url(#gg)" stroke="#86b886" stroke-width="0.6"/>
<rect x="660.87" y="296.4" width="4.4" height="15" fill="url(#gg)" stroke="#86b886" stroke-width="0.6"/>
<rect x="665.27" y="307" width="4.4" height="4.4" fill="url(#gg)" stroke="#86b886" stroke-width="0.6"/>
<rect x="669.67" y="303" width="4.4" height="8.4" fill="url(#gg)" stroke="#86b886" stroke-width="0.6"/>
<path d="M552.38 280.75C552.9 282.21 554.46 286.58 555.5 289.5C556.54 292.42 557.58 295.75 558.62 298.25C559.67 300.75 560.6 304.5 561.75 304.5C562.9 304.5 564.25 300.96 565.5 298.25C566.75 295.54 568 291.38 569.25 288.25C570.5 285.12 571.85 281.69 573 279.5C574.15 277.31 574.98 275.65 576.12 275.12C577.27 274.6 578.62 275.02 579.88 276.38C581.12 277.73 582.38 280.65 583.62 283.25C584.88 285.85 586.12 289.29 587.38 292C588.62 294.71 589.88 297.73 591.12 299.5C592.38 301.27 593.62 302.1 594.88 302.62C596.12 303.15 597.27 302.94 598.62 302.62C599.98 302.31 601.65 301.27 603 300.75C604.35 300.23 605.5 299.6 606.75 299.5C608 299.4 609.12 299.75 610.5 300.12C611.88 300.5 613.42 301.12 615 301.75C616.58 302.38 618.33 303.1 620 303.88C621.67 304.65 623.33 305.54 625 306.38C626.67 307.21 628.54 308.35 630 308.88C631.46 309.4 632.5 309.65 633.75 309.5C635 309.35 636.25 308.73 637.5 308C638.75 307.27 640 305.92 641.25 305.12C642.5 304.33 643.75 303.56 645 303.25C646.25 302.94 647.5 303.04 648.75 303.25C650 303.46 651.04 304.19 652.5 304.5C653.96 304.81 655.83 305.12 657.5 305.12C659.17 305.12 660.83 304.75 662.5 304.5C664.17 304.25 666.04 303.88 667.5 303.62C668.96 303.38 670.62 303.1 671.25 303" fill="none" stroke="#0a6e0a" stroke-width="3.1" stroke-linejoin="round" stroke-linecap="butt"/>
<rect x="543.6" y="263.3" width="140.5" height="48.1" fill="none" stroke="#999999" stroke-width="0.9"/>
<line x1="543.6" y1="263.6" x2="545.1" y2="263.6" stroke="#999999" stroke-width="0.7"/>
<line x1="684.1" y1="263.6" x2="682.6" y2="263.6" stroke="#999999" stroke-width="0.7"/>
<text transform="translate(540 267.65) scale(1.03 1)" text-anchor="end" font-size="9.7" fill="#262626">10</text>
<line x1="543.6" y1="287.6" x2="545.1" y2="287.6" stroke="#999999" stroke-width="0.7"/>
<line x1="684.1" y1="287.6" x2="682.6" y2="287.6" stroke="#999999" stroke-width="0.7"/>
<text transform="translate(540 291.65) scale(1.03 1)" text-anchor="end" font-size="9.7" fill="#262626">5</text>
<line x1="543.6" y1="311.4" x2="545.1" y2="311.4" stroke="#999999" stroke-width="0.7"/>
<line x1="684.1" y1="311.4" x2="682.6" y2="311.4" stroke="#999999" stroke-width="0.7"/>
<text transform="translate(540 315.45) scale(1.03 1)" text-anchor="end" font-size="9.7" fill="#262626">0</text>
<text x="566.65" y="325.6" text-anchor="middle" font-size="10.3" fill="#262626">SW</text>
<text x="598.35" y="325.6" text-anchor="middle" font-size="10.3" fill="#262626">NW</text>
<text x="630.05" y="325.6" text-anchor="middle" font-size="10.3" fill="#262626">NE</text>
<text x="661.75" y="325.6" text-anchor="middle" font-size="10.3" fill="#262626">SE</text>
<text transform="translate(685.1 258.9) scale(0.912 1)" text-anchor="end" font-size="10.4" fill="#1a1a1a"><tspan font-style="italic">r</tspan> = -0.30; <tspan font-style="italic">p</tspan> =0.062</text>
<text x="542.6" y="260.8" font-size="21.4" font-weight="bold" fill="#000">l</text>
<line x1="550.8" y1="353.6" x2="550.8" y2="401.4" stroke="#d95319" stroke-width="1.0"/>
<line x1="582.5" y1="353.6" x2="582.5" y2="401.4" stroke="#d95319" stroke-width="1.0"/>
<line x1="614.2" y1="353.6" x2="614.2" y2="401.4" stroke="#d95319" stroke-width="1.0"/>
<line x1="645.9" y1="353.6" x2="645.9" y2="401.4" stroke="#d95319" stroke-width="1.0"/>
<line x1="677.6" y1="353.6" x2="677.6" y2="401.4" stroke="#d95319" stroke-width="1.0"/>
<line x1="566.65" y1="353.6" x2="566.65" y2="401.4" stroke="#14148a" stroke-width="1.0"/>
<line x1="598.35" y1="353.6" x2="598.35" y2="401.4" stroke="#14148a" stroke-width="1.0"/>
<line x1="630.05" y1="353.6" x2="630.05" y2="401.4" stroke="#14148a" stroke-width="1.0"/>
<line x1="661.75" y1="353.6" x2="661.75" y2="401.4" stroke="#14148a" stroke-width="1.0"/>
<rect x="550.8" y="381" width="4.4" height="20.4" fill="url(#bg)" stroke="#777777" stroke-width="0.6"/>
<rect x="555.2" y="368" width="4.4" height="33.4" fill="url(#bg)" stroke="#777777" stroke-width="0.6"/>
<rect x="559.61" y="389.25" width="4.4" height="12.15" fill="url(#bg)" stroke="#777777" stroke-width="0.6"/>
<rect x="564.01" y="366.4" width="4.4" height="35" fill="url(#bg)" stroke="#777777" stroke-width="0.6"/>
<rect x="568.41" y="358.25" width="4.4" height="43.15" fill="url(#bg)" stroke="#777777" stroke-width="0.6"/>
<rect x="572.81" y="377.25" width="4.4" height="24.15" fill="url(#bg)" stroke="#777777" stroke-width="0.6"/>
<rect x="577.22" y="364.25" width="4.4" height="37.15" fill="url(#bg)" stroke="#777777" stroke-width="0.6"/>
<rect x="581.62" y="381.4" width="4.4" height="20" fill="url(#gg)" stroke="#86b886" stroke-width="0.6"/>
<rect x="586.02" y="374.5" width="4.4" height="26.9" fill="url(#gg)" stroke="#86b886" stroke-width="0.6"/>
<rect x="590.42" y="368.25" width="4.4" height="33.15" fill="url(#gg)" stroke="#86b886" stroke-width="0.6"/>
<rect x="594.83" y="366.4" width="4.4" height="35" fill="url(#gg)" stroke="#86b886" stroke-width="0.6"/>
<rect x="599.23" y="375.75" width="4.4" height="25.65" fill="url(#gg)" stroke="#86b886" stroke-width="0.6"/>
<rect x="603.63" y="375.75" width="4.4" height="25.65" fill="url(#gg)" stroke="#86b886" stroke-width="0.6"/>
<rect x="608.04" y="377" width="4.4" height="24.4" fill="url(#gg)" stroke="#86b886" stroke-width="0.6"/>
<rect x="612.44" y="379.5" width="4.4" height="21.9" fill="url(#gg)" stroke="#86b886" stroke-width="0.6"/>
<rect x="616.84" y="369.75" width="4.4" height="31.65" fill="url(#gg)" stroke="#86b886" stroke-width="0.6"/>
<rect x="621.24" y="381.4" width="4.4" height="20" fill="url(#gg)" stroke="#86b886" stroke-width="0.6"/>
<rect x="625.65" y="388.25" width="4.4" height="13.15" fill="url(#gg)" stroke="#86b886" stroke-width="0.6"/>
<rect x="630.05" y="378.25" width="4.4" height="23.15" fill="url(#gg)" stroke="#86b886" stroke-width="0.6"/>
<rect x="634.45" y="363.5" width="4.4" height="37.9" fill="url(#gg)" stroke="#86b886" stroke-width="0.6"/>
<rect x="638.86" y="383.25" width="4.4" height="18.15" fill="url(#gg)" stroke="#86b886" stroke-width="0.6"/>
<rect x="643.26" y="375.1" width="4.4" height="26.3" fill="url(#gg)" stroke="#86b886" stroke-width="0.6"/>
<rect x="647.66" y="370.75" width="4.4" height="30.65" fill="url(#gg)" stroke="#86b886" stroke-width="0.6"/>
<rect x="652.06" y="373.25" width="4.4" height="28.15" fill="url(#gg)" stroke="#86b886" stroke-width="0.6"/>
<rect x="656.47" y="378.25" width="4.4" height="23.15" fill="url(#gg)" stroke="#86b886" stroke-width="0.6"/>
<rect x="660.87" y="370.1" width="4.4" height="31.3" fill="url(#gg)" stroke="#86b886" stroke-width="0.6"/>
<rect x="665.27" y="385.1" width="4.4" height="16.3" fill="url(#gg)" stroke="#86b886" stroke-width="0.6"/>
<rect x="669.67" y="397" width="4.4" height="4.4" fill="url(#gg)" stroke="#86b886" stroke-width="0.6"/>
<path d="M552.38 380.75C553.1 380.23 555.19 378.88 556.75 377.62C558.31 376.38 560.08 374.71 561.75 373.25C563.42 371.79 565.29 369.88 566.75 368.88C568.21 367.88 569.25 367.25 570.5 367.25C571.75 367.25 572.79 368.08 574.25 368.88C575.71 369.67 577.69 371.1 579.25 372C580.81 372.9 582.17 374.04 583.62 374.25C585.08 374.46 586.44 373.83 588 373.25C589.56 372.67 591.54 371.21 593 370.75C594.46 370.29 595.5 370.25 596.75 370.5C598 370.75 599.04 371.62 600.5 372.25C601.96 372.88 603.83 373.77 605.5 374.25C607.17 374.73 608.92 374.88 610.5 375.12C612.08 375.38 613.42 375.33 615 375.75C616.58 376.17 618.33 377.04 620 377.62C621.67 378.21 623.54 379.04 625 379.25C626.46 379.46 627.5 379.35 628.75 378.88C630 378.4 631.25 377.15 632.5 376.38C633.75 375.6 634.79 374.73 636.25 374.25C637.71 373.77 639.58 373.62 641.25 373.5C642.92 373.38 644.58 373.58 646.25 373.5C647.92 373.42 649.58 373.15 651.25 373C652.92 372.85 654.79 372.48 656.25 372.62C657.71 372.77 658.75 372.83 660 373.88C661.25 374.92 662.5 376.79 663.75 378.88C665 380.96 666.25 383.46 667.5 386.38C668.75 389.29 670.62 394.71 671.25 396.38" fill="none" stroke="#0a6e0a" stroke-width="3.1" stroke-linejoin="round" stroke-linecap="butt"/>
<rect x="543.6" y="353.6" width="140.5" height="47.8" fill="none" stroke="#999999" stroke-width="0.9"/>
<line x1="543.6" y1="365.1" x2="545.1" y2="365.1" stroke="#999999" stroke-width="0.7"/>
<line x1="684.1" y1="365.1" x2="682.6" y2="365.1" stroke="#999999" stroke-width="0.7"/>
<text transform="translate(540 369.15) scale(1.03 1)" text-anchor="end" font-size="9.7" fill="#262626">3</text>
<line x1="543.6" y1="377.9" x2="545.1" y2="377.9" stroke="#999999" stroke-width="0.7"/>
<line x1="684.1" y1="377.9" x2="682.6" y2="377.9" stroke="#999999" stroke-width="0.7"/>
<text transform="translate(540 381.95) scale(1.03 1)" text-anchor="end" font-size="9.7" fill="#262626">2.5</text>
<line x1="543.6" y1="391" x2="545.1" y2="391" stroke="#999999" stroke-width="0.7"/>
<line x1="684.1" y1="391" x2="682.6" y2="391" stroke="#999999" stroke-width="0.7"/>
<text transform="translate(540 395.05) scale(1.03 1)" text-anchor="end" font-size="9.7" fill="#262626">2</text>
<text x="566.65" y="415.6" text-anchor="middle" font-size="10.3" fill="#262626">SW</text>
<text x="598.35" y="415.6" text-anchor="middle" font-size="10.3" fill="#262626">NW</text>
<text x="630.05" y="415.6" text-anchor="middle" font-size="10.3" fill="#262626">NE</text>
<text x="661.75" y="415.6" text-anchor="middle" font-size="10.3" fill="#262626">SE</text>
<text transform="translate(685.1 349.2) scale(0.912 1)" text-anchor="end" font-size="10.4" fill="#1a1a1a"><tspan font-style="italic">r</tspan> = 0.13; <tspan font-style="italic">p</tspan> = 0.26</text>
<text x="542.6" y="351.1" font-size="21.4" font-weight="bold" fill="#000">m</text>
<text transform="translate(7.7 198) rotate(-90)" text-anchor="middle" font-size="10.6" fill="#262626">Firing rate</text><text transform="translate(18.6 199) rotate(-90)" text-anchor="middle" font-size="10.9" fill="#262626">(spike/s)</text>
</svg>
</body></html>
